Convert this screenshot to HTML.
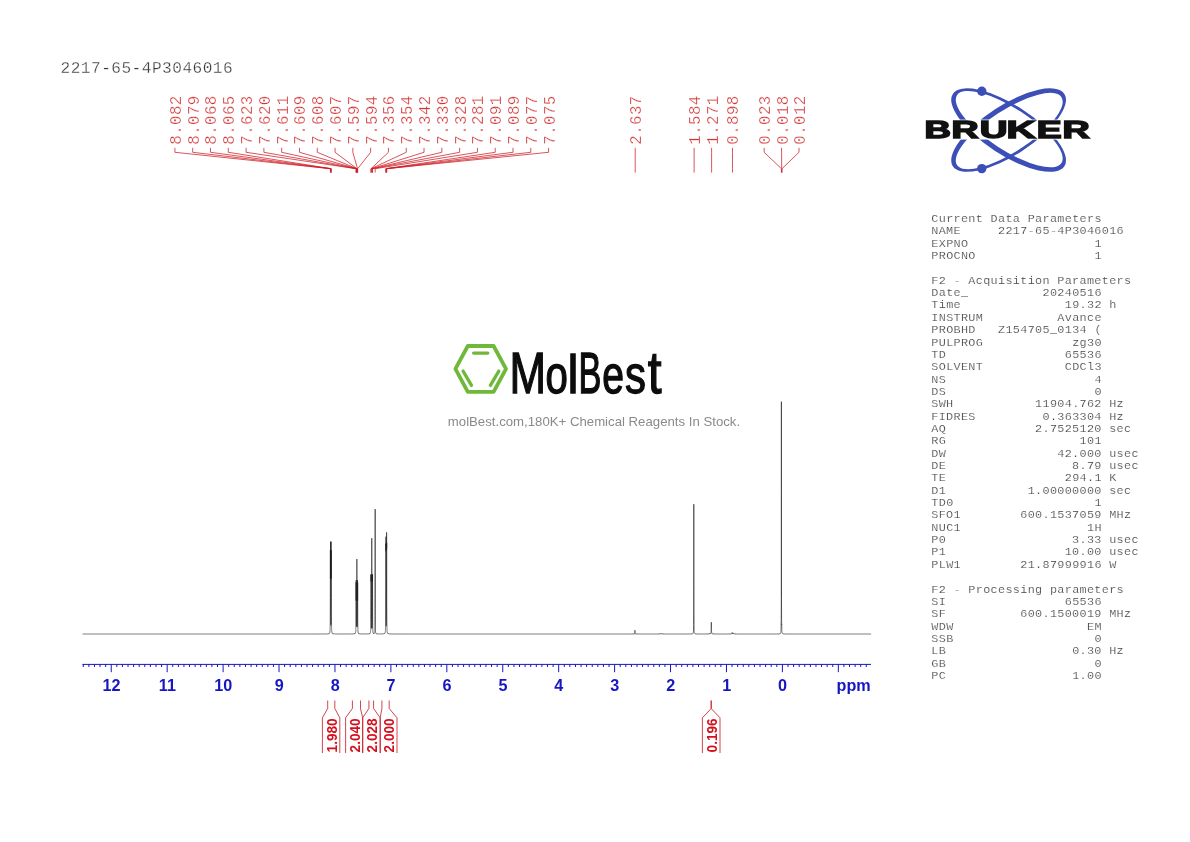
<!DOCTYPE html>
<html lang="en"><head><meta charset="utf-8"><title>2217-65-4P3046016 1H NMR</title>
<style>
html,body{margin:0;padding:0;background:#fff;}
body{width:1190px;height:842px;overflow:hidden;}
svg{display:block;}
.mono{font-family:'Liberation Mono', 'DejaVu Sans Mono', monospace;}
.sans{font-family:'Liberation Sans', 'DejaVu Sans', sans-serif;}
.pk{font-family:'Liberation Mono', 'DejaVu Sans Mono', monospace;font-size:15.8px;fill:#d23434;stroke:#fff;stroke-width:0.3px;}
.par{font-family:'Liberation Mono', 'DejaVu Sans Mono', monospace;font-size:11.8px;fill:#444;white-space:pre;stroke:#fff;stroke-width:0.18px;}
.ax{font-family:'Liberation Sans', 'DejaVu Sans', sans-serif;font-weight:bold;font-size:16.2px;fill:#1616c2;}
.int{font-family:'Liberation Sans', 'DejaVu Sans', sans-serif;font-weight:bold;font-size:14.2px;fill:#d4101c;}
</style></head><body>
<svg width="1190" height="842" viewBox="0 0 1190 842">
<rect width="1190" height="842" fill="#fff"/>

<text class="mono" x="60.5" y="72.9" font-size="16.1" fill="#383838" stroke="#fff" stroke-width="0.28" textLength="172.2" lengthAdjust="spacing">2217-65-4P3046016</text>
<g fill="none" stroke="#cc1c24" stroke-width="0.75">
<path d="M174.90 147.8V152.3L330.37 168.7V172.6"/>
<path d="M192.69 147.8V152.3L330.54 168.7V172.6"/>
<path d="M210.49 147.8V152.3L331.16 168.7V172.6"/>
<path d="M228.29 147.8V152.3L331.32 168.7V172.6"/>
<path d="M246.08 147.8V152.3L356.05 168.7V172.6"/>
<path d="M263.88 147.8V152.3L356.21 168.7V172.6"/>
<path d="M281.67 147.8V152.3L356.72 168.7V172.6"/>
<path d="M299.47 147.8V152.3L356.83 168.7V172.6"/>
<path d="M317.26 147.8V152.3L356.88 168.7V172.6"/>
<path d="M335.06 147.8V152.3L356.94 168.7V172.6"/>
<path d="M352.85 147.8V152.3L357.50 168.7V172.6"/>
<path d="M370.64 147.8V152.3L357.67 168.7V172.6"/>
<path d="M388.44 147.8V152.3L370.98 168.7V172.6"/>
<path d="M406.24 147.8V152.3L371.09 168.7V172.6"/>
<path d="M424.03 147.8V152.3L371.76 168.7V172.6"/>
<path d="M441.83 147.8V152.3L372.43 168.7V172.6"/>
<path d="M459.62 147.8V152.3L372.54 168.7V172.6"/>
<path d="M477.42 147.8V152.3L375.17 168.7V172.6"/>
<path d="M495.21 147.8V152.3L385.80 168.7V172.6"/>
<path d="M513.00 147.8V152.3L385.91 168.7V172.6"/>
<path d="M530.80 147.8V152.3L386.58 168.7V172.6"/>
<path d="M548.60 147.8V152.3L386.70 168.7V172.6"/>
<path d="M635.21 147.8V152.3L635.21 168.7V172.6"/>
<path d="M694.11 147.8V152.3L694.11 168.7V172.6"/>
<path d="M711.61 147.8V152.3L711.61 168.7V172.6"/>
<path d="M732.47 147.8V152.3L732.47 168.7V172.6"/>
<path d="M764.20 147.8V152.3L781.41 168.7V172.6"/>
<path d="M781.60 147.8V152.3L781.69 168.7V172.6"/>
<path d="M799.00 147.8V152.3L782.03 168.7V172.6"/>
</g>
<g class="pk">
<text transform="translate(180.90 144.7) rotate(-90)" textLength="49" lengthAdjust="spacing">8.082</text>
<text transform="translate(198.69 144.7) rotate(-90)" textLength="49" lengthAdjust="spacing">8.079</text>
<text transform="translate(216.49 144.7) rotate(-90)" textLength="49" lengthAdjust="spacing">8.068</text>
<text transform="translate(234.29 144.7) rotate(-90)" textLength="49" lengthAdjust="spacing">8.065</text>
<text transform="translate(252.08 144.7) rotate(-90)" textLength="49" lengthAdjust="spacing">7.623</text>
<text transform="translate(269.88 144.7) rotate(-90)" textLength="49" lengthAdjust="spacing">7.620</text>
<text transform="translate(287.67 144.7) rotate(-90)" textLength="49" lengthAdjust="spacing">7.611</text>
<text transform="translate(305.47 144.7) rotate(-90)" textLength="49" lengthAdjust="spacing">7.609</text>
<text transform="translate(323.26 144.7) rotate(-90)" textLength="49" lengthAdjust="spacing">7.608</text>
<text transform="translate(341.06 144.7) rotate(-90)" textLength="49" lengthAdjust="spacing">7.607</text>
<text transform="translate(358.85 144.7) rotate(-90)" textLength="49" lengthAdjust="spacing">7.597</text>
<text transform="translate(376.64 144.7) rotate(-90)" textLength="49" lengthAdjust="spacing">7.594</text>
<text transform="translate(394.44 144.7) rotate(-90)" textLength="49" lengthAdjust="spacing">7.356</text>
<text transform="translate(412.24 144.7) rotate(-90)" textLength="49" lengthAdjust="spacing">7.354</text>
<text transform="translate(430.03 144.7) rotate(-90)" textLength="49" lengthAdjust="spacing">7.342</text>
<text transform="translate(447.83 144.7) rotate(-90)" textLength="49" lengthAdjust="spacing">7.330</text>
<text transform="translate(465.62 144.7) rotate(-90)" textLength="49" lengthAdjust="spacing">7.328</text>
<text transform="translate(483.42 144.7) rotate(-90)" textLength="49" lengthAdjust="spacing">7.281</text>
<text transform="translate(501.21 144.7) rotate(-90)" textLength="49" lengthAdjust="spacing">7.091</text>
<text transform="translate(519.00 144.7) rotate(-90)" textLength="49" lengthAdjust="spacing">7.089</text>
<text transform="translate(536.80 144.7) rotate(-90)" textLength="49" lengthAdjust="spacing">7.077</text>
<text transform="translate(554.60 144.7) rotate(-90)" textLength="49" lengthAdjust="spacing">7.075</text>
<text transform="translate(641.21 144.7) rotate(-90)" textLength="49" lengthAdjust="spacing">2.637</text>
<text transform="translate(700.11 144.7) rotate(-90)" textLength="49" lengthAdjust="spacing">1.584</text>
<text transform="translate(717.61 144.7) rotate(-90)" textLength="49" lengthAdjust="spacing">1.271</text>
<text transform="translate(738.47 144.7) rotate(-90)" textLength="49" lengthAdjust="spacing">0.898</text>
<text transform="translate(770.20 144.7) rotate(-90)" textLength="49" lengthAdjust="spacing">0.023</text>
<text transform="translate(787.60 144.7) rotate(-90)" textLength="49" lengthAdjust="spacing">0.018</text>
<text transform="translate(805.00 144.7) rotate(-90)" textLength="49" lengthAdjust="spacing">0.012</text>
</g>
<polyline fill="none" stroke="#1c1c1c" stroke-width="0.62" stroke-linejoin="round" points="82.60,634.00 83.10,634.00 83.60,634.00 84.10,634.00 84.60,634.00 85.10,634.00 85.60,634.00 86.10,634.00 86.60,634.00 87.10,634.00 87.60,634.00 88.10,634.00 88.60,634.00 89.10,634.00 89.60,634.00 90.10,634.00 90.60,634.00 91.10,634.00 91.60,634.00 92.10,634.00 92.60,634.00 93.10,634.00 93.60,634.00 94.10,634.00 94.60,634.00 95.10,634.00 95.60,634.00 96.10,634.00 96.60,634.00 97.10,634.00 97.60,634.00 98.10,634.00 98.60,634.00 99.10,634.00 99.60,634.00 100.10,634.00 100.60,634.00 101.10,634.00 101.60,634.00 102.10,634.00 102.60,634.00 103.10,634.00 103.60,634.00 104.10,634.00 104.60,634.00 105.10,634.00 105.60,634.00 106.10,634.00 106.60,634.00 107.10,634.00 107.60,634.00 108.10,634.00 108.60,634.00 109.10,634.00 109.60,634.00 110.10,634.00 110.60,634.00 111.10,634.00 111.60,634.00 112.10,634.00 112.60,634.00 113.10,634.00 113.60,634.00 114.10,634.00 114.60,634.00 115.10,634.00 115.60,634.00 116.10,634.00 116.60,634.00 117.10,634.00 117.60,634.00 118.10,634.00 118.60,634.00 119.10,634.00 119.60,634.00 120.10,634.00 120.60,634.00 121.10,634.00 121.60,634.00 122.10,634.00 122.60,634.00 123.10,634.00 123.60,634.00 124.10,634.00 124.60,634.00 125.10,634.00 125.60,634.00 126.10,634.00 126.60,634.00 127.10,634.00 127.60,634.00 128.10,634.00 128.60,634.00 129.10,634.00 129.60,634.00 130.10,634.00 130.60,634.00 131.10,634.00 131.60,634.00 132.10,634.00 132.60,634.00 133.10,634.00 133.60,634.00 134.10,634.00 134.60,634.00 135.10,634.00 135.60,634.00 136.10,634.00 136.60,634.00 137.10,634.00 137.60,634.00 138.10,634.00 138.60,634.00 139.10,634.00 139.60,634.00 140.10,634.00 140.60,634.00 141.10,634.00 141.60,634.00 142.10,634.00 142.60,634.00 143.10,634.00 143.60,634.00 144.10,634.00 144.60,634.00 145.10,634.00 145.60,634.00 146.10,634.00 146.60,634.00 147.10,634.00 147.60,634.00 148.10,634.00 148.60,634.00 149.10,634.00 149.60,634.00 150.10,634.00 150.60,634.00 151.10,634.00 151.60,634.00 152.10,634.00 152.60,634.00 153.10,634.00 153.60,634.00 154.10,634.00 154.60,634.00 155.10,634.00 155.60,634.00 156.10,634.00 156.60,634.00 157.10,634.00 157.60,634.00 158.10,634.00 158.60,634.00 159.10,634.00 159.60,634.00 160.10,634.00 160.60,634.00 161.10,634.00 161.60,634.00 162.10,634.00 162.60,634.00 163.10,634.00 163.60,634.00 164.10,634.00 164.60,634.00 165.10,634.00 165.60,634.00 166.10,634.00 166.60,634.00 167.10,634.00 167.60,634.00 168.10,634.00 168.60,634.00 169.10,634.00 169.60,634.00 170.10,634.00 170.60,634.00 171.10,634.00 171.60,634.00 172.10,634.00 172.60,634.00 173.10,634.00 173.60,634.00 174.10,634.00 174.60,634.00 175.10,634.00 175.60,634.00 176.10,634.00 176.60,634.00 177.10,634.00 177.60,634.00 178.10,634.00 178.60,634.00 179.10,634.00 179.60,634.00 180.10,634.00 180.60,634.00 181.10,634.00 181.60,634.00 182.10,634.00 182.60,634.00 183.10,634.00 183.60,634.00 184.10,634.00 184.60,634.00 185.10,634.00 185.60,634.00 186.10,634.00 186.60,634.00 187.10,634.00 187.60,634.00 188.10,634.00 188.60,634.00 189.10,634.00 189.60,634.00 190.10,634.00 190.60,634.00 191.10,634.00 191.60,634.00 192.10,634.00 192.60,634.00 193.10,634.00 193.60,634.00 194.10,634.00 194.60,634.00 195.10,634.00 195.60,634.00 196.10,634.00 196.60,634.00 197.10,634.00 197.60,634.00 198.10,634.00 198.60,634.00 199.10,634.00 199.60,634.00 200.10,634.00 200.60,634.00 201.10,634.00 201.60,634.00 202.10,634.00 202.60,634.00 203.10,634.00 203.60,634.00 204.10,634.00 204.60,634.00 205.10,634.00 205.60,634.00 206.10,634.00 206.60,634.00 207.10,634.00 207.60,634.00 208.10,634.00 208.60,634.00 209.10,634.00 209.60,634.00 210.10,634.00 210.60,634.00 211.10,634.00 211.60,634.00 212.10,634.00 212.60,634.00 213.10,634.00 213.60,634.00 214.10,634.00 214.60,634.00 215.10,634.00 215.60,634.00 216.10,634.00 216.60,634.00 217.10,634.00 217.60,634.00 218.10,634.00 218.60,634.00 219.10,634.00 219.60,634.00 220.10,634.00 220.60,634.00 221.10,634.00 221.60,634.00 222.10,634.00 222.60,634.00 223.10,634.00 223.60,634.00 224.10,634.00 224.60,634.00 225.10,634.00 225.60,634.00 226.10,634.00 226.60,634.00 227.10,634.00 227.60,634.00 228.10,634.00 228.60,634.00 229.10,634.00 229.60,634.00 230.10,634.00 230.60,634.00 231.10,634.00 231.60,634.00 232.10,634.00 232.60,634.00 233.10,634.00 233.60,634.00 234.10,634.00 234.60,634.00 235.10,634.00 235.60,634.00 236.10,634.00 236.60,634.00 237.10,634.00 237.60,634.00 238.10,634.00 238.60,634.00 239.10,634.00 239.60,634.00 240.10,634.00 240.60,634.00 241.10,634.00 241.60,634.00 242.10,634.00 242.60,634.00 243.10,634.00 243.60,634.00 244.10,634.00 244.60,634.00 245.10,634.00 245.60,634.00 246.10,634.00 246.60,634.00 247.10,634.00 247.60,634.00 248.10,634.00 248.60,634.00 249.10,634.00 249.60,634.00 250.10,634.00 250.60,634.00 251.10,634.00 251.60,634.00 252.10,634.00 252.60,634.00 253.10,634.00 253.60,634.00 254.10,634.00 254.60,634.00 255.10,634.00 255.60,634.00 256.10,634.00 256.60,634.00 257.10,634.00 257.60,634.00 258.10,634.00 258.60,634.00 259.10,634.00 259.60,634.00 260.10,634.00 260.60,634.00 261.10,634.00 261.60,634.00 262.10,634.00 262.60,634.00 263.10,634.00 263.60,634.00 264.10,634.00 264.60,634.00 265.10,634.00 265.60,634.00 266.10,634.00 266.60,634.00 267.10,634.00 267.60,634.00 268.10,634.00 268.60,634.00 269.10,634.00 269.60,634.00 270.10,634.00 270.60,634.00 271.10,634.00 271.60,634.00 272.10,634.00 272.60,634.00 273.10,634.00 273.60,634.00 274.10,634.00 274.60,634.00 275.10,634.00 275.60,634.00 276.10,634.00 276.60,634.00 277.10,634.00 277.60,634.00 278.10,634.00 278.60,634.00 279.10,634.00 279.60,634.00 280.10,634.00 280.60,634.00 281.10,634.00 281.60,634.00 282.10,634.00 282.60,634.00 283.10,634.00 283.60,634.00 284.10,634.00 284.60,634.00 285.10,634.00 285.60,634.00 286.10,634.00 286.60,634.00 287.10,634.00 287.60,634.00 288.10,634.00 288.60,634.00 289.10,634.00 289.60,634.00 290.10,634.00 290.60,634.00 291.10,634.00 291.60,634.00 292.10,634.00 292.60,634.00 293.10,634.00 293.60,634.00 294.10,634.00 294.60,634.00 295.10,634.00 295.60,634.00 296.10,634.00 296.60,634.00 297.10,634.00 297.60,634.00 298.10,634.00 298.60,634.00 299.10,634.00 299.60,634.00 300.10,634.00 300.60,634.00 301.10,634.00 301.60,634.00 302.10,634.00 302.60,634.00 303.10,634.00 303.60,634.00 304.10,634.00 304.60,634.00 305.10,634.00 305.60,634.00 306.10,634.00 306.60,634.00 307.10,634.00 307.60,634.00 308.10,634.00 308.60,634.00 309.10,634.00 309.60,634.00 310.10,634.00 310.60,634.00 311.10,634.00 311.60,634.00 312.10,634.00 312.60,634.00 313.10,634.00 313.60,633.99 314.10,633.99 314.60,633.99 315.10,633.99 315.60,633.99 316.10,633.99 316.60,633.99 317.10,633.99 317.60,633.99 318.10,633.99 318.60,633.99 319.10,633.99 319.60,633.99 320.10,633.99 320.60,633.99 321.10,633.99 321.60,633.98 322.10,633.98 322.60,633.98 323.10,633.98 323.60,633.98 324.10,633.97 324.60,633.97 325.10,633.96 325.60,633.95 326.10,633.94 326.60,633.93 327.10,633.91 327.37,633.90 327.41,633.89 327.45,633.89 327.49,633.89 327.53,633.89 327.54,633.89 327.57,633.88 327.58,633.88 327.60,633.88 327.61,633.88 327.62,633.88 327.65,633.88 327.66,633.88 327.69,633.87 327.70,633.87 327.73,633.87 327.74,633.87 327.77,633.87 327.78,633.87 327.81,633.86 327.82,633.86 327.85,633.86 327.86,633.86 327.89,633.86 327.90,633.85 327.93,633.85 327.94,633.85 327.97,633.85 327.98,633.85 328.01,633.84 328.02,633.84 328.05,633.84 328.06,633.84 328.09,633.83 328.10,633.83 328.10,633.83 328.13,633.83 328.14,633.83 328.16,633.82 328.17,633.82 328.18,633.82 328.20,633.82 328.21,633.82 328.22,633.81 328.24,633.81 328.25,633.81 328.26,633.81 328.28,633.81 328.29,633.80 328.30,633.80 328.32,633.80 328.32,633.80 328.33,633.80 328.34,633.80 328.36,633.79 328.37,633.79 328.37,633.79 328.38,633.79 328.40,633.79 328.40,633.78 328.41,633.78 328.42,633.78 328.44,633.78 328.44,633.78 328.45,633.77 328.46,633.77 328.48,633.77 328.49,633.77 328.49,633.77 328.50,633.76 328.52,633.76 328.52,633.76 328.53,633.76 328.54,633.76 328.56,633.75 328.56,633.75 328.57,633.75 328.58,633.75 328.60,633.74 328.60,633.74 328.61,633.74 328.61,633.74 328.62,633.74 328.64,633.73 328.64,633.73 328.65,633.73 328.66,633.73 328.68,633.72 328.69,633.72 328.69,633.72 328.70,633.71 328.72,633.71 328.73,633.71 328.73,633.70 328.74,633.70 328.76,633.70 328.76,633.69 328.77,633.69 328.78,633.69 328.80,633.68 328.81,633.68 328.81,633.68 328.82,633.68 328.84,633.67 328.85,633.67 328.85,633.66 328.86,633.66 328.88,633.66 328.88,633.65 328.89,633.65 328.90,633.65 328.92,633.64 328.93,633.64 328.93,633.63 328.94,633.63 328.96,633.62 328.96,633.62 328.97,633.61 328.98,633.61 329.00,633.60 329.00,633.60 329.01,633.59 329.02,633.59 329.04,633.58 329.05,633.58 329.05,633.57 329.06,633.57 329.08,633.56 329.08,633.56 329.09,633.55 329.10,633.55 329.10,633.55 329.12,633.54 329.12,633.53 329.13,633.53 329.14,633.52 329.16,633.51 329.17,633.51 329.17,633.50 329.18,633.49 329.20,633.48 329.20,633.48 329.21,633.47 329.22,633.46 329.24,633.45 329.25,633.45 329.25,633.44 329.26,633.43 329.28,633.42 329.29,633.41 329.29,633.40 329.30,633.40 329.32,633.38 329.32,633.37 329.33,633.36 329.34,633.36 329.36,633.34 329.37,633.33 329.37,633.32 329.38,633.31 329.40,633.30 329.40,633.29 329.41,633.27 329.42,633.26 329.44,633.24 329.44,633.23 329.45,633.22 329.46,633.21 329.48,633.19 329.49,633.18 329.49,633.16 329.50,633.15 329.52,633.12 329.52,633.11 329.53,633.10 329.54,633.08 329.56,633.05 329.56,633.04 329.57,633.02 329.58,633.00 329.60,632.97 329.60,632.96 329.61,632.95 329.61,632.93 329.62,632.91 329.64,632.88 329.64,632.86 329.65,632.83 329.66,632.81 329.68,632.77 329.69,632.75 329.69,632.72 329.70,632.70 329.72,632.65 329.73,632.62 329.73,632.59 329.74,632.56 329.76,632.50 329.76,632.47 329.77,632.43 329.78,632.40 329.80,632.33 329.81,632.29 329.81,632.24 329.82,632.20 329.84,632.12 329.85,632.07 329.85,632.02 329.86,631.97 329.88,631.87 329.88,631.81 329.89,631.74 329.90,631.68 329.92,631.56 329.93,631.49 329.93,631.40 329.94,631.32 329.96,631.17 329.96,631.08 329.97,630.97 329.98,630.87 330.00,630.67 330.00,630.55 330.01,630.41 330.02,630.28 330.04,630.01 330.05,629.85 330.05,629.66 330.06,629.48 330.08,629.11 330.08,628.89 330.09,628.63 330.10,628.44 330.10,628.38 330.12,627.85 330.12,627.53 330.13,627.14 330.14,626.76 330.16,625.96 330.17,625.48 330.17,624.87 330.18,624.27 330.20,622.98 330.20,622.17 330.21,621.15 330.22,620.12 330.24,617.83 330.25,616.36 330.25,614.46 330.26,612.51 330.28,608.01 330.29,605.06 330.29,601.18 330.30,597.16 330.32,587.93 330.32,582.10 330.33,574.90 330.34,568.22 330.36,556.75 330.37,552.45 330.37,550.12 330.38,550.52 330.40,556.39 330.40,560.97 330.41,566.24 330.42,570.46 330.44,576.22 330.44,577.93 330.45,578.63 330.46,578.16 330.48,574.50 330.49,571.07 330.49,566.07 330.50,560.82 330.52,550.29 330.52,545.51 330.53,542.13 330.54,541.66 330.56,547.72 330.56,553.81 330.57,561.81 330.58,569.15 330.60,581.85 330.60,584.12 330.61,587.68 330.61,593.37 330.62,597.71 330.64,604.29 330.64,607.11 330.65,609.82 330.66,611.87 330.68,615.02 330.69,616.39 330.69,617.72 330.70,618.76 330.72,620.37 330.73,621.08 330.73,621.78 330.74,622.33 330.76,623.18 330.76,623.56 330.77,623.93 330.78,624.21 330.80,624.64 330.81,624.81 330.81,624.97 330.82,625.08 330.84,625.21 330.85,625.24 330.85,625.24 330.86,625.21 330.88,625.07 330.88,624.96 330.89,624.80 330.90,624.62 330.92,624.19 330.93,623.90 330.93,623.53 330.94,623.15 330.96,622.28 330.96,621.73 330.97,621.02 330.98,620.30 331.00,618.67 331.00,617.63 331.01,616.27 331.02,614.89 331.04,611.70 331.05,609.62 331.05,606.88 331.06,604.02 331.08,597.35 331.08,592.95 331.09,587.19 331.10,582.84 331.10,581.30 331.12,568.50 331.12,561.16 331.13,553.22 331.14,547.26 331.16,541.60 331.17,542.30 331.17,545.88 331.18,550.76 331.20,561.31 331.20,566.51 331.21,571.41 331.22,574.75 331.24,578.25 331.25,578.62 331.25,577.82 331.26,576.03 331.28,570.11 331.29,565.84 331.29,560.55 331.30,556.01 331.32,550.40 331.32,550.20 331.33,552.76 331.34,557.21 331.36,568.81 331.37,575.48 331.37,582.64 331.38,588.42 331.40,597.54 331.40,601.51 331.41,605.34 331.42,608.25 331.44,612.69 331.44,614.62 331.45,616.50 331.46,617.95 331.48,620.22 331.49,621.23 331.49,622.25 331.50,623.04 331.52,624.33 331.52,624.92 331.53,625.52 331.54,626.00 331.56,626.80 331.56,627.17 331.57,627.56 331.58,627.87 331.60,628.40 331.60,628.50 331.61,628.65 331.61,628.91 331.62,629.13 331.64,629.50 331.64,629.68 331.65,629.86 331.66,630.02 331.68,630.29 331.69,630.42 331.69,630.56 331.70,630.68 331.72,630.88 331.73,630.98 331.73,631.08 331.74,631.17 331.76,631.33 331.76,631.41 331.77,631.49 331.78,631.56 331.80,631.69 331.81,631.75 331.81,631.82 331.82,631.87 331.84,631.97 331.85,632.02 331.85,632.08 331.86,632.12 331.88,632.21 331.88,632.25 331.89,632.29 331.90,632.33 331.92,632.40 331.93,632.43 331.93,632.47 331.94,632.50 331.96,632.56 331.96,632.59 331.97,632.62 331.98,632.65 332.00,632.70 332.00,632.72 332.01,632.75 332.02,632.77 332.04,632.81 332.05,632.84 332.05,632.86 332.06,632.88 332.08,632.92 332.08,632.93 332.09,632.95 332.10,632.97 332.10,632.97 332.12,633.00 332.12,633.02 332.13,633.04 332.14,633.05 332.16,633.08 332.17,633.10 332.17,633.11 332.18,633.13 332.20,633.15 332.20,633.16 332.21,633.18 332.22,633.19 332.24,633.21 332.25,633.22 332.25,633.23 332.26,633.24 332.28,633.26 332.29,633.27 332.29,633.29 332.30,633.30 332.32,633.31 332.32,633.32 332.33,633.33 332.34,633.34 332.36,633.36 332.37,633.36 332.37,633.37 332.38,633.38 332.40,633.40 332.40,633.40 332.41,633.41 332.42,633.42 332.44,633.43 332.44,633.44 332.45,633.45 332.46,633.45 332.48,633.46 332.49,633.47 332.49,633.48 332.50,633.48 332.52,633.49 332.52,633.50 332.53,633.51 332.54,633.51 332.56,633.52 332.56,633.53 332.57,633.53 332.58,633.54 332.60,633.55 332.60,633.55 332.61,633.55 332.61,633.56 332.62,633.56 332.64,633.57 332.64,633.57 332.65,633.58 332.66,633.58 332.68,633.59 332.69,633.59 332.69,633.60 332.70,633.60 332.72,633.61 332.73,633.61 332.73,633.62 332.74,633.62 332.76,633.63 332.76,633.63 332.77,633.64 332.78,633.64 332.80,633.64 332.81,633.65 332.81,633.65 332.82,633.65 332.84,633.66 332.85,633.66 332.85,633.67 332.86,633.67 332.88,633.68 332.88,633.68 332.89,633.68 332.90,633.68 332.92,633.69 332.93,633.69 332.93,633.69 332.94,633.70 332.96,633.70 332.96,633.70 332.97,633.71 332.98,633.71 333.00,633.71 333.00,633.72 333.01,633.72 333.02,633.72 333.04,633.72 333.05,633.73 333.05,633.73 333.06,633.73 333.08,633.74 333.08,633.74 333.09,633.74 333.10,633.74 333.10,633.74 333.12,633.75 333.12,633.75 333.13,633.75 333.14,633.75 333.16,633.75 333.17,633.76 333.17,633.76 333.18,633.76 333.20,633.76 333.20,633.77 333.21,633.77 333.22,633.77 333.24,633.77 333.25,633.77 333.25,633.78 333.26,633.78 333.28,633.78 333.29,633.78 333.29,633.78 333.30,633.78 333.32,633.79 333.32,633.79 333.33,633.79 333.34,633.79 333.36,633.79 333.37,633.80 333.37,633.80 333.38,633.80 333.40,633.80 333.40,633.80 333.42,633.81 333.44,633.81 333.44,633.81 333.46,633.81 333.48,633.81 333.49,633.81 333.50,633.82 333.52,633.82 333.52,633.82 333.54,633.82 333.56,633.83 333.56,633.83 333.60,633.83 333.60,633.83 333.61,633.83 333.64,633.84 333.64,633.84 333.68,633.84 333.69,633.84 333.72,633.84 333.73,633.85 333.76,633.85 333.76,633.85 333.80,633.85 333.81,633.85 333.84,633.86 333.85,633.86 333.88,633.86 333.88,633.86 333.92,633.86 333.93,633.87 333.96,633.87 333.96,633.87 334.00,633.87 334.00,633.87 334.04,633.87 334.05,633.88 334.08,633.88 334.08,633.88 334.10,633.88 334.12,633.88 334.12,633.88 334.16,633.88 334.17,633.88 334.20,633.89 334.25,633.89 334.29,633.89 334.32,633.89 334.60,633.91 335.10,633.93 335.60,633.94 336.10,633.95 336.60,633.96 337.10,633.96 337.60,633.97 338.10,633.97 338.60,633.97 339.10,633.98 339.60,633.98 340.10,633.98 340.60,633.98 341.10,633.98 341.60,633.98 342.10,633.98 342.60,633.98 343.10,633.98 343.60,633.98 344.10,633.98 344.60,633.98 345.10,633.98 345.60,633.98 346.10,633.98 346.60,633.98 347.10,633.98 347.60,633.98 348.10,633.98 348.60,633.98 349.10,633.97 349.60,633.97 350.10,633.97 350.60,633.96 351.10,633.96 351.60,633.95 352.10,633.94 352.60,633.92 353.05,633.91 353.09,633.90 353.10,633.90 353.13,633.90 353.17,633.90 353.21,633.90 353.21,633.90 353.25,633.90 353.25,633.89 353.29,633.89 353.29,633.89 353.33,633.89 353.33,633.89 353.37,633.89 353.37,633.89 353.41,633.89 353.41,633.88 353.45,633.88 353.45,633.88 353.49,633.88 353.49,633.88 353.53,633.88 353.53,633.88 353.57,633.87 353.57,633.87 353.60,633.87 353.61,633.87 353.61,633.87 353.65,633.87 353.65,633.87 353.69,633.86 353.69,633.86 353.72,633.86 353.73,633.86 353.73,633.86 353.76,633.86 353.77,633.86 353.77,633.85 353.80,633.85 353.81,633.85 353.81,633.85 353.83,633.85 353.84,633.85 353.85,633.85 353.85,633.85 353.87,633.84 353.88,633.84 353.88,633.84 353.89,633.84 353.89,633.84 353.91,633.84 353.92,633.84 353.93,633.84 353.93,633.84 353.93,633.84 353.94,633.84 353.95,633.84 353.96,633.83 353.96,633.83 353.97,633.83 353.97,633.83 353.98,633.83 353.99,633.83 354.00,633.83 354.00,633.83 354.01,633.83 354.01,633.83 354.02,633.83 354.03,633.83 354.04,633.82 354.05,633.82 354.05,633.82 354.05,633.82 354.06,633.82 354.07,633.82 354.08,633.82 354.08,633.82 354.09,633.82 354.09,633.82 354.10,633.82 354.11,633.81 354.12,633.81 354.12,633.81 354.13,633.81 354.13,633.81 354.14,633.81 354.15,633.81 354.16,633.81 354.17,633.81 354.17,633.80 354.17,633.80 354.18,633.80 354.19,633.80 354.20,633.80 354.20,633.80 354.21,633.80 354.21,633.80 354.22,633.80 354.23,633.79 354.24,633.79 354.25,633.79 354.25,633.79 354.25,633.79 354.26,633.79 354.27,633.79 354.28,633.79 354.29,633.78 354.29,633.78 354.29,633.78 354.30,633.78 354.31,633.78 354.32,633.78 354.32,633.78 354.33,633.78 354.33,633.77 354.34,633.77 354.35,633.77 354.36,633.77 354.37,633.77 354.37,633.77 354.37,633.77 354.38,633.76 354.39,633.76 354.40,633.76 354.40,633.76 354.41,633.76 354.41,633.76 354.42,633.76 354.43,633.75 354.44,633.75 354.44,633.75 354.45,633.75 354.45,633.75 354.46,633.75 354.47,633.74 354.48,633.74 354.49,633.74 354.49,633.74 354.49,633.74 354.50,633.74 354.51,633.73 354.52,633.73 354.52,633.73 354.53,633.73 354.53,633.73 354.54,633.73 354.55,633.72 354.56,633.72 354.56,633.72 354.57,633.72 354.57,633.72 354.58,633.71 354.59,633.71 354.60,633.71 354.60,633.71 354.61,633.71 354.61,633.71 354.61,633.70 354.62,633.70 354.63,633.70 354.64,633.70 354.64,633.69 354.65,633.69 354.65,633.69 354.66,633.69 354.67,633.69 354.67,633.69 354.68,633.68 354.69,633.68 354.69,633.68 354.69,633.68 354.70,633.67 354.71,633.67 354.71,633.67 354.72,633.67 354.73,633.66 354.73,633.66 354.73,633.66 354.74,633.66 354.75,633.66 354.75,633.65 354.76,633.65 354.76,633.65 354.77,633.65 354.77,633.64 354.78,633.64 354.79,633.64 354.79,633.64 354.80,633.63 354.81,633.63 354.81,633.63 354.81,633.63 354.82,633.62 354.83,633.62 354.83,633.62 354.84,633.62 354.85,633.61 354.85,633.61 354.85,633.61 354.86,633.60 354.87,633.60 354.87,633.60 354.88,633.60 354.88,633.59 354.89,633.59 354.89,633.59 354.90,633.58 354.91,633.58 354.91,633.58 354.92,633.57 354.93,633.57 354.93,633.57 354.93,633.56 354.94,633.56 354.95,633.56 354.95,633.56 354.96,633.55 354.96,633.55 354.97,633.54 354.97,633.54 354.98,633.54 354.99,633.53 354.99,633.53 355.00,633.52 355.00,633.52 355.01,633.52 355.01,633.51 355.02,633.51 355.03,633.50 355.03,633.50 355.04,633.50 355.05,633.49 355.05,633.49 355.05,633.48 355.06,633.48 355.07,633.47 355.07,633.47 355.08,633.46 355.08,633.46 355.09,633.46 355.09,633.45 355.10,633.44 355.11,633.44 355.11,633.44 355.12,633.43 355.12,633.42 355.13,633.42 355.13,633.41 355.14,633.41 355.15,633.40 355.15,633.40 355.16,633.39 355.17,633.38 355.17,633.38 355.17,633.37 355.18,633.36 355.19,633.36 355.19,633.35 355.20,633.35 355.20,633.34 355.21,633.33 355.21,633.33 355.22,633.32 355.23,633.31 355.23,633.31 355.24,633.30 355.25,633.29 355.25,633.28 355.25,633.27 355.26,633.26 355.27,633.25 355.27,633.25 355.28,633.24 355.29,633.23 355.29,633.23 355.29,633.22 355.30,633.20 355.31,633.19 355.31,633.19 355.32,633.18 355.32,633.16 355.33,633.16 355.33,633.15 355.34,633.14 355.35,633.12 355.35,633.12 355.36,633.10 355.37,633.09 355.37,633.09 355.37,633.07 355.38,633.06 355.39,633.04 355.39,633.04 355.40,633.02 355.40,633.00 355.41,633.00 355.41,632.98 355.42,632.96 355.43,632.94 355.43,632.94 355.44,632.92 355.44,632.90 355.45,632.90 355.45,632.88 355.46,632.86 355.47,632.83 355.47,632.83 355.48,632.81 355.49,632.78 355.49,632.78 355.49,632.75 355.50,632.73 355.51,632.70 355.51,632.70 355.52,632.67 355.52,632.64 355.53,632.63 355.53,632.60 355.54,632.57 355.55,632.54 355.55,632.54 355.56,632.50 355.56,632.46 355.57,632.46 355.57,632.42 355.58,632.39 355.59,632.34 355.59,632.34 355.60,632.29 355.60,632.28 355.61,632.25 355.61,632.24 355.61,632.20 355.62,632.15 355.63,632.10 355.63,632.09 355.64,632.03 355.64,631.97 355.65,631.97 355.65,631.91 355.66,631.85 355.67,631.78 355.67,631.78 355.68,631.70 355.69,631.62 355.69,631.61 355.69,631.54 355.70,631.47 355.71,631.38 355.71,631.36 355.72,631.27 355.73,631.16 355.73,631.15 355.73,631.05 355.74,630.95 355.75,630.82 355.75,630.80 355.76,630.67 355.76,630.52 355.77,630.51 355.77,630.37 355.78,630.22 355.79,630.04 355.79,630.02 355.80,629.82 355.81,629.61 355.81,629.58 355.81,629.38 355.82,629.16 355.83,628.89 355.83,628.85 355.84,628.55 355.85,628.22 355.85,628.18 355.85,627.86 355.86,627.51 355.87,627.07 355.87,627.01 355.88,626.51 355.88,625.95 355.89,625.88 355.89,625.33 355.90,624.72 355.91,623.94 355.91,623.83 355.92,622.93 355.93,621.90 355.93,621.76 355.93,620.71 355.94,619.53 355.95,617.99 355.95,617.78 355.96,615.96 355.96,613.85 355.97,613.56 355.97,611.41 355.98,608.97 355.99,605.82 355.99,605.39 356.00,601.79 356.00,597.87 356.01,597.36 356.01,593.76 356.02,590.24 356.03,586.62 356.03,586.22 356.04,583.61 356.05,582.29 356.05,582.23 356.05,582.42 356.06,583.62 356.07,585.92 356.07,586.25 356.08,589.13 356.08,592.09 356.09,592.45 356.09,594.80 356.10,596.82 356.11,598.63 356.11,598.81 356.12,599.96 356.12,600.50 356.13,600.53 356.13,600.43 356.14,599.87 356.15,598.65 356.15,598.45 356.16,596.55 356.17,594.10 356.17,593.76 356.17,591.18 356.18,588.40 356.19,585.22 356.19,584.84 356.20,582.15 356.20,580.39 356.21,580.26 356.21,579.98 356.22,580.86 356.23,583.18 356.23,583.56 356.24,587.06 356.25,591.13 356.25,591.65 356.25,595.33 356.26,598.89 356.27,602.66 356.27,603.10 356.28,606.42 356.29,609.33 356.29,609.66 356.29,611.84 356.30,613.75 356.31,615.63 356.31,615.85 356.32,617.44 356.32,618.80 356.33,618.95 356.33,619.96 356.34,620.85 356.35,621.73 356.35,621.84 356.36,622.58 356.37,623.23 356.37,623.30 356.37,623.79 356.38,624.21 356.39,624.63 356.39,624.68 356.40,625.04 356.40,625.34 356.41,625.38 356.41,625.60 356.42,625.79 356.43,625.97 356.43,625.99 356.44,626.12 356.44,626.23 356.45,626.24 356.45,626.30 356.46,626.34 356.47,626.36 356.47,626.36 356.48,626.34 356.49,626.30 356.49,626.29 356.49,626.22 356.50,626.13 356.51,626.00 356.51,625.98 356.52,625.81 356.52,625.61 356.53,625.58 356.53,625.36 356.54,625.11 356.55,624.79 356.55,624.74 356.56,624.36 356.56,623.92 356.57,623.86 356.57,623.41 356.58,622.91 356.59,622.25 356.59,622.16 356.60,621.40 356.60,621.08 356.61,620.52 356.61,620.40 356.61,619.50 356.62,618.48 356.63,617.15 356.63,616.97 356.64,615.41 356.64,613.60 356.65,613.36 356.65,611.53 356.66,609.48 356.67,606.86 356.67,606.51 356.68,603.61 356.69,600.53 356.69,600.15 356.69,597.46 356.70,594.94 356.71,592.49 356.71,592.23 356.72,590.52 356.73,589.53 356.73,589.45 356.73,589.14 356.74,589.09 356.75,589.07 356.75,589.06 356.76,588.75 356.76,587.96 356.77,587.82 356.77,586.55 356.78,584.76 356.79,582.09 356.79,581.71 356.80,578.42 356.81,574.78 356.81,574.32 356.81,571.11 356.82,568.13 356.83,565.24 356.83,564.92 356.84,562.80 356.85,561.28 356.85,561.13 356.85,560.22 356.86,559.54 356.87,559.05 356.87,559.02 356.88,558.99 356.88,559.54 356.89,559.65 356.89,560.72 356.90,562.21 356.91,564.28 356.91,564.56 356.92,566.92 356.93,569.50 356.93,569.85 356.93,572.39 356.94,575.27 356.95,579.01 356.95,579.51 356.96,583.70 356.96,588.11 356.97,588.66 356.97,592.49 356.98,596.15 356.99,600.03 356.99,600.48 357.00,603.91 357.00,606.94 357.01,607.29 357.01,609.58 357.02,611.60 357.03,613.62 357.03,613.85 357.04,615.58 357.05,617.07 357.05,617.24 357.05,618.37 357.06,619.37 357.07,620.38 357.07,620.50 357.08,621.37 357.08,622.14 357.09,622.23 357.09,622.81 357.10,623.34 357.11,623.87 357.11,623.93 357.12,624.40 357.12,624.81 357.13,624.86 357.13,625.18 357.14,625.46 357.15,625.75 357.15,625.78 357.16,626.03 357.17,626.24 357.17,626.27 357.17,626.43 357.18,626.57 357.19,626.70 357.19,626.72 357.20,626.82 357.20,626.90 357.21,626.91 357.21,626.96 357.22,626.99 357.23,627.01 357.23,627.01 357.24,626.99 357.25,626.96 357.25,626.95 357.25,626.90 357.26,626.82 357.27,626.72 357.27,626.70 357.28,626.56 357.29,626.39 357.29,626.36 357.29,626.18 357.30,625.97 357.31,625.69 357.31,625.66 357.32,625.33 357.32,624.95 357.33,624.90 357.33,624.51 357.34,624.07 357.35,623.50 357.35,623.42 357.36,622.75 357.37,621.98 357.37,621.88 357.37,621.09 357.38,620.20 357.39,619.02 357.39,618.86 357.40,617.47 357.40,615.85 357.41,615.63 357.41,613.96 357.42,612.05 357.43,609.54 357.43,609.20 357.44,606.25 357.44,602.88 357.45,602.43 357.45,599.12 357.46,595.56 357.47,591.35 357.47,590.82 357.48,586.79 357.49,583.36 357.49,583.00 357.49,581.00 357.50,580.09 357.51,580.46 357.51,580.61 357.52,582.48 357.52,585.24 357.53,585.62 357.53,588.41 357.54,591.19 357.55,594.12 357.55,594.45 357.56,596.85 357.56,598.68 357.57,598.87 357.57,599.91 357.58,600.49 357.59,600.57 357.59,600.54 357.60,599.94 357.60,599.55 357.61,598.73 357.61,598.53 357.61,596.93 357.62,594.92 357.63,592.21 357.63,591.85 357.64,588.89 357.64,586.03 357.65,585.70 357.65,583.71 357.66,582.49 357.67,582.32 357.67,582.41 357.68,583.87 357.69,586.59 357.69,587.00 357.69,590.19 357.70,593.71 357.71,597.81 357.71,598.32 357.72,602.21 357.73,605.77 357.73,606.19 357.73,608.94 357.74,611.38 357.75,613.83 357.75,614.11 357.76,616.19 357.76,617.98 357.77,618.19 357.77,619.53 357.78,620.71 357.79,621.90 357.79,622.04 357.80,623.05 357.81,623.95 357.81,624.05 357.81,624.73 357.82,625.34 357.83,625.97 357.83,626.04 357.84,626.59 357.85,627.08 357.85,627.14 357.85,627.52 357.86,627.87 357.87,628.24 357.87,628.28 357.88,628.61 357.88,628.90 357.89,628.94 357.89,629.17 357.90,629.39 357.91,629.62 357.91,629.65 357.92,629.86 357.93,630.06 357.93,630.08 357.93,630.24 357.94,630.38 357.95,630.54 357.95,630.56 357.96,630.70 357.96,630.83 357.97,630.85 357.97,630.96 357.98,631.06 357.99,631.17 357.99,631.19 358.00,631.29 358.00,631.39 358.01,631.40 358.01,631.48 358.02,631.55 358.03,631.64 358.03,631.65 358.04,631.72 358.05,631.80 358.05,631.80 358.05,631.87 358.06,631.92 358.07,631.99 358.07,631.99 358.08,632.05 358.08,632.11 358.09,632.11 358.09,632.16 358.10,632.21 358.11,632.26 358.11,632.26 358.12,632.31 358.12,632.35 358.13,632.36 358.13,632.39 358.14,632.43 358.15,632.47 358.15,632.47 358.16,632.51 358.17,632.55 358.17,632.55 358.17,632.58 358.18,632.61 358.19,632.64 358.19,632.65 358.20,632.68 358.20,632.71 358.21,632.71 358.21,632.74 358.22,632.76 358.23,632.79 358.23,632.79 358.24,632.81 358.25,632.84 358.25,632.84 358.25,632.86 358.26,632.88 358.27,632.91 358.27,632.91 358.28,632.93 358.29,632.95 358.29,632.95 358.29,632.97 358.30,632.99 358.31,633.01 358.31,633.01 358.32,633.03 358.32,633.04 358.33,633.05 358.33,633.06 358.34,633.08 358.35,633.09 358.35,633.09 358.36,633.11 358.37,633.13 358.37,633.13 358.37,633.14 358.38,633.15 358.39,633.17 358.39,633.17 358.40,633.18 358.40,633.20 358.41,633.20 358.41,633.21 358.42,633.22 358.43,633.23 358.43,633.23 358.44,633.24 358.44,633.26 358.45,633.26 358.45,633.27 358.46,633.28 358.47,633.29 358.47,633.29 358.48,633.30 358.49,633.31 358.49,633.31 358.49,633.32 358.50,633.33 358.51,633.34 358.51,633.34 358.52,633.35 358.52,633.36 358.53,633.36 358.53,633.37 358.54,633.37 358.55,633.38 358.55,633.38 358.56,633.39 358.56,633.40 358.57,633.40 358.57,633.41 358.58,633.41 358.59,633.42 358.59,633.42 358.60,633.43 358.60,633.43 358.61,633.44 358.61,633.44 358.61,633.45 358.62,633.45 358.63,633.46 358.63,633.46 358.64,633.47 358.64,633.47 358.65,633.47 358.65,633.48 358.66,633.48 358.67,633.49 358.67,633.49 358.68,633.50 358.69,633.50 358.69,633.50 358.69,633.51 358.70,633.51 358.71,633.52 358.71,633.52 358.72,633.53 358.73,633.53 358.73,633.53 358.73,633.54 358.74,633.54 358.75,633.55 358.75,633.55 358.76,633.55 358.76,633.56 358.77,633.56 358.77,633.56 358.78,633.57 358.79,633.57 358.79,633.57 358.80,633.57 358.81,633.58 358.81,633.58 358.81,633.58 358.82,633.59 358.83,633.59 358.83,633.59 358.84,633.60 358.85,633.60 358.85,633.60 358.85,633.60 358.86,633.61 358.87,633.61 358.87,633.61 358.88,633.62 358.88,633.62 358.89,633.62 358.89,633.62 358.90,633.63 358.91,633.63 358.91,633.63 358.92,633.63 358.93,633.64 358.93,633.64 358.93,633.64 358.94,633.64 358.95,633.65 358.95,633.65 358.96,633.65 358.96,633.65 358.97,633.66 358.97,633.66 358.98,633.66 358.99,633.66 358.99,633.66 359.00,633.67 359.00,633.67 359.01,633.67 359.01,633.67 359.02,633.68 359.03,633.68 359.03,633.68 359.04,633.68 359.05,633.68 359.05,633.68 359.05,633.69 359.06,633.69 359.07,633.69 359.07,633.69 359.08,633.70 359.08,633.70 359.09,633.70 359.10,633.70 359.11,633.70 359.11,633.71 359.12,633.71 359.12,633.71 359.13,633.71 359.14,633.71 359.15,633.72 359.15,633.72 359.16,633.72 359.17,633.72 359.17,633.72 359.18,633.73 359.19,633.73 359.19,633.73 359.20,633.73 359.20,633.73 359.21,633.73 359.22,633.74 359.23,633.74 359.23,633.74 359.24,633.74 359.25,633.74 359.26,633.75 359.27,633.75 359.27,633.75 359.28,633.75 359.29,633.75 359.30,633.76 359.31,633.76 359.31,633.76 359.32,633.76 359.32,633.76 359.34,633.76 359.35,633.77 359.35,633.77 359.36,633.77 359.37,633.77 359.38,633.77 359.39,633.77 359.39,633.77 359.40,633.78 359.40,633.78 359.42,633.78 359.43,633.78 359.43,633.78 359.44,633.78 359.44,633.78 359.46,633.79 359.47,633.79 359.47,633.79 359.48,633.79 359.49,633.79 359.50,633.79 359.51,633.80 359.51,633.80 359.52,633.80 359.52,633.80 359.54,633.80 359.55,633.80 359.55,633.80 359.56,633.80 359.56,633.80 359.58,633.81 359.59,633.81 359.59,633.81 359.60,633.81 359.60,633.81 359.61,633.81 359.62,633.81 359.63,633.81 359.63,633.81 359.64,633.82 359.64,633.82 359.66,633.82 359.67,633.82 359.67,633.82 359.68,633.82 359.69,633.82 359.70,633.82 359.71,633.82 359.71,633.83 359.72,633.83 359.73,633.83 359.74,633.83 359.75,633.83 359.75,633.83 359.76,633.83 359.78,633.83 359.79,633.83 359.79,633.83 359.81,633.84 359.82,633.84 359.83,633.84 359.83,633.84 359.85,633.84 359.86,633.84 359.87,633.84 359.88,633.85 359.90,633.85 359.91,633.85 359.94,633.85 359.95,633.85 359.98,633.85 359.99,633.86 360.02,633.86 360.03,633.86 360.06,633.86 360.07,633.86 360.10,633.87 360.11,633.87 360.14,633.87 360.15,633.87 360.18,633.87 360.19,633.87 360.22,633.87 360.23,633.87 360.26,633.88 360.27,633.88 360.30,633.88 360.31,633.88 360.34,633.88 360.35,633.88 360.38,633.88 360.39,633.89 360.42,633.89 360.43,633.89 360.46,633.89 360.47,633.89 360.50,633.89 360.51,633.89 360.55,633.89 360.59,633.90 360.60,633.90 360.63,633.90 360.67,633.90 361.10,633.92 361.60,633.93 362.10,633.94 362.60,633.95 363.10,633.95 363.60,633.95 364.10,633.95 364.60,633.95 365.10,633.95 365.60,633.95 366.10,633.94 366.60,633.94 367.10,633.93 367.60,633.91 367.98,633.90 368.02,633.90 368.06,633.90 368.09,633.89 368.10,633.89 368.10,633.89 368.13,633.89 368.14,633.89 368.17,633.89 368.18,633.89 368.21,633.89 368.22,633.89 368.25,633.88 368.26,633.88 368.29,633.88 368.30,633.88 368.33,633.88 368.34,633.88 368.37,633.88 368.38,633.88 368.41,633.87 368.42,633.87 368.45,633.87 368.46,633.87 368.49,633.87 368.50,633.87 368.53,633.87 368.54,633.87 368.57,633.86 368.58,633.86 368.60,633.86 368.61,633.86 368.62,633.86 368.65,633.86 368.66,633.85 368.69,633.85 368.70,633.85 368.73,633.85 368.74,633.85 368.76,633.84 368.77,633.84 368.78,633.84 368.80,633.84 368.81,633.84 368.82,633.84 368.84,633.84 368.85,633.84 368.86,633.83 368.88,633.83 368.89,633.83 368.90,633.83 368.92,633.83 368.93,633.83 368.94,633.82 368.96,633.82 368.97,633.82 368.98,633.82 369.00,633.82 369.01,633.81 369.02,633.81 369.04,633.81 369.05,633.81 369.06,633.81 369.08,633.80 369.09,633.80 369.10,633.80 369.10,633.80 369.12,633.80 369.13,633.80 369.14,633.80 369.16,633.79 369.17,633.79 369.18,633.79 369.20,633.78 369.21,633.78 369.22,633.78 369.24,633.78 369.25,633.78 369.26,633.77 369.28,633.77 369.29,633.77 369.30,633.77 369.32,633.76 369.33,633.76 369.34,633.76 369.36,633.75 369.37,633.75 369.38,633.75 369.40,633.74 369.41,633.74 369.42,633.74 369.43,633.73 369.44,633.73 369.45,633.73 369.46,633.73 369.47,633.72 369.48,633.72 369.49,633.72 369.50,633.72 369.51,633.71 369.52,633.71 369.53,633.71 369.54,633.70 369.55,633.70 369.55,633.70 369.56,633.70 369.57,633.69 369.58,633.69 369.58,633.69 369.59,633.69 369.60,633.68 369.60,633.68 369.61,633.68 369.62,633.68 369.62,633.68 369.63,633.67 369.64,633.67 369.65,633.67 369.66,633.66 369.67,633.66 369.67,633.66 369.68,633.65 369.69,633.65 369.70,633.65 369.70,633.64 369.71,633.64 369.72,633.64 369.73,633.63 369.74,633.63 369.75,633.63 369.75,633.62 369.76,633.62 369.77,633.61 369.78,633.61 369.79,633.61 369.79,633.60 369.80,633.60 369.81,633.59 369.82,633.59 369.82,633.59 369.83,633.58 369.84,633.58 369.85,633.57 369.86,633.57 369.87,633.56 369.87,633.56 369.88,633.55 369.89,633.55 369.90,633.54 369.90,633.54 369.91,633.53 369.92,633.53 369.93,633.52 369.94,633.52 369.94,633.51 369.95,633.51 369.96,633.50 369.97,633.49 369.98,633.49 369.99,633.48 369.99,633.47 370.00,633.47 370.01,633.46 370.02,633.45 370.02,633.45 370.03,633.44 370.04,633.43 370.05,633.42 370.06,633.42 370.06,633.41 370.07,633.40 370.08,633.39 370.09,633.38 370.10,633.37 370.10,633.37 370.11,633.37 370.11,633.36 370.12,633.35 370.13,633.34 370.14,633.33 370.14,633.32 370.15,633.31 370.16,633.30 370.17,633.29 370.18,633.28 370.19,633.27 370.19,633.25 370.20,633.24 370.21,633.23 370.22,633.22 370.23,633.21 370.23,633.19 370.24,633.18 370.25,633.16 370.26,633.15 370.26,633.14 370.27,633.12 370.28,633.10 370.29,633.08 370.30,633.07 370.31,633.05 370.31,633.04 370.32,633.02 370.33,633.00 370.34,632.98 370.35,632.96 370.35,632.94 370.36,632.92 370.37,632.89 370.38,632.87 370.38,632.85 370.39,632.82 370.40,632.80 370.41,632.77 370.42,632.74 370.43,632.72 370.43,632.69 370.44,632.65 370.45,632.62 370.46,632.58 370.46,632.56 370.47,632.52 370.48,632.48 370.49,632.43 370.50,632.39 370.50,632.36 370.51,632.32 370.52,632.26 370.53,632.21 370.54,632.16 370.55,632.12 370.55,632.06 370.56,631.99 370.57,631.92 370.58,631.86 370.58,631.81 370.59,631.73 370.60,631.67 370.60,631.65 370.61,631.56 370.62,631.47 370.62,631.40 370.63,631.31 370.64,631.19 370.65,631.07 370.66,630.95 370.67,630.86 370.67,630.73 370.68,630.57 370.69,630.40 370.70,630.24 370.70,630.11 370.71,629.92 370.72,629.69 370.73,629.45 370.74,629.21 370.75,629.01 370.75,628.73 370.76,628.39 370.77,628.01 370.78,627.63 370.79,627.33 370.79,626.88 370.80,626.32 370.81,625.69 370.82,625.06 370.82,624.54 370.83,623.77 370.84,622.78 370.85,621.64 370.86,620.47 370.87,619.48 370.87,618.00 370.88,616.06 370.89,613.77 370.90,611.40 370.90,609.38 370.91,606.33 370.92,602.38 370.93,597.86 370.94,593.45 370.94,589.99 370.95,585.38 370.96,580.65 370.97,577.00 370.98,575.10 370.99,574.59 370.99,575.01 371.00,576.54 371.01,578.50 371.02,580.07 371.02,580.93 371.03,581.46 371.04,581.16 371.05,579.95 371.06,578.34 371.06,576.99 371.07,575.38 371.08,574.41 371.09,574.91 371.10,576.83 371.10,577.17 371.11,579.12 371.11,583.01 371.12,588.04 371.13,593.21 371.14,597.57 371.14,600.60 371.15,604.26 371.16,607.84 371.17,610.89 371.18,613.21 371.19,614.74 371.19,616.52 371.20,618.24 371.21,619.70 371.22,620.82 371.23,621.56 371.23,622.43 371.24,623.29 371.25,624.03 371.26,624.60 371.26,624.99 371.27,625.45 371.28,625.91 371.29,626.30 371.30,626.61 371.31,626.82 371.31,627.06 371.32,627.31 371.33,627.51 371.34,627.67 371.35,627.78 371.35,627.90 371.36,628.01 371.37,628.10 371.38,628.16 371.38,628.19 371.39,628.22 371.40,628.23 371.41,628.23 371.42,628.21 371.43,628.18 371.43,628.13 371.44,628.05 371.45,627.95 371.46,627.85 371.46,627.76 371.47,627.61 371.48,627.43 371.49,627.22 371.50,627.00 371.50,626.82 371.51,626.56 371.52,626.22 371.53,625.84 371.54,625.46 371.55,625.14 371.55,624.67 371.56,624.08 371.57,623.40 371.58,622.72 371.58,622.15 371.59,621.30 371.60,620.47 371.60,620.22 371.61,618.96 371.62,617.68 371.62,616.60 371.63,614.96 371.64,612.83 371.65,610.31 371.66,607.68 371.67,605.43 371.67,602.00 371.68,597.46 371.69,592.06 371.70,586.47 371.70,581.76 371.71,574.80 371.72,566.22 371.73,557.30 371.74,549.77 371.75,544.91 371.75,540.21 371.76,538.26 371.77,540.26 371.78,544.99 371.79,549.88 371.79,557.41 371.80,566.34 371.81,574.91 371.82,581.86 371.82,586.56 371.83,592.14 371.84,597.52 371.85,602.06 371.86,605.48 371.87,607.72 371.87,610.34 371.88,612.86 371.89,614.99 371.90,616.62 371.90,617.70 371.91,618.98 371.92,620.23 371.93,621.31 371.94,622.15 371.94,622.72 371.95,623.40 371.96,624.08 371.97,624.67 371.98,625.14 371.99,625.46 371.99,625.84 372.00,626.22 372.01,626.56 372.02,626.82 372.02,627.00 372.03,627.21 372.04,627.43 372.05,627.61 372.06,627.75 372.06,627.84 372.07,627.95 372.08,628.04 372.09,628.12 372.10,628.17 372.10,628.17 372.11,628.20 372.11,628.22 372.12,628.22 372.13,628.21 372.14,628.18 372.14,628.14 372.15,628.08 372.16,627.99 372.17,627.88 372.17,627.84 372.18,627.76 372.19,627.66 372.19,627.50 372.20,627.29 372.21,627.05 372.21,626.96 372.22,626.80 372.23,626.59 372.23,626.28 372.24,625.88 372.25,625.43 372.25,625.26 372.26,624.97 372.26,624.58 372.27,624.00 372.28,623.26 372.29,622.40 372.29,622.09 372.30,621.53 372.31,620.78 372.31,619.66 372.32,618.20 372.33,616.48 372.33,615.84 372.34,614.69 372.35,613.16 372.35,610.84 372.36,607.78 372.37,604.19 372.37,602.87 372.38,600.52 372.38,597.49 372.39,593.12 372.40,587.95 372.41,582.93 372.41,581.38 372.42,579.04 372.43,576.77 372.43,574.87 372.44,574.39 372.45,575.38 372.45,575.94 372.46,577.00 372.46,578.34 372.47,579.95 372.48,581.14 372.49,581.44 372.49,581.32 372.50,580.89 372.50,580.03 372.51,578.45 372.52,576.49 372.53,574.97 372.53,574.69 372.54,574.57 372.55,575.09 372.55,577.01 372.56,580.68 372.57,585.42 372.57,587.13 372.58,590.03 372.58,593.49 372.59,597.90 372.60,601.45 372.60,602.40 372.61,606.35 372.61,607.54 372.62,609.39 372.62,611.41 372.63,613.77 372.64,616.05 372.65,617.99 372.65,618.57 372.66,619.47 372.67,620.45 372.67,621.62 372.68,622.76 372.69,623.75 372.69,624.05 372.70,624.52 372.70,625.04 372.71,625.67 372.72,626.30 372.73,626.85 372.73,627.02 372.74,627.30 372.75,627.60 372.75,627.98 372.76,628.36 372.77,628.70 372.77,628.81 372.78,628.98 372.79,629.17 372.79,629.41 372.80,629.66 372.81,629.88 372.81,629.95 372.82,630.07 372.82,630.20 372.83,630.36 372.84,630.53 372.85,630.69 372.85,630.74 372.86,630.82 372.87,630.91 372.87,631.03 372.88,631.15 372.89,631.26 372.89,631.30 372.90,631.36 372.90,631.43 372.91,631.51 372.92,631.60 372.93,631.69 372.93,631.72 372.94,631.76 372.94,631.81 372.95,631.88 372.96,631.95 372.97,632.01 372.97,632.03 372.98,632.07 372.99,632.11 372.99,632.16 373.00,632.21 373.01,632.26 373.01,632.28 373.02,632.31 373.02,632.34 373.03,632.38 373.04,632.42 373.05,632.47 373.05,632.48 373.06,632.50 373.06,632.53 373.07,632.56 373.08,632.59 373.09,632.63 373.09,632.64 373.10,632.66 373.10,632.66 373.11,632.68 373.11,632.71 373.12,632.74 373.13,632.76 373.13,632.77 373.14,632.79 373.14,632.80 373.15,632.83 373.16,632.85 373.17,632.87 373.17,632.88 373.18,632.89 373.19,632.91 373.19,632.93 373.20,632.95 373.21,632.97 373.21,632.98 373.22,632.99 373.23,633.00 373.23,633.01 373.24,633.03 373.25,633.05 373.25,633.05 373.26,633.06 373.26,633.07 373.27,633.09 373.28,633.10 373.29,633.12 373.29,633.12 373.30,633.13 373.31,633.14 373.31,633.15 373.32,633.16 373.33,633.17 373.33,633.18 373.34,633.19 373.35,633.19 373.35,633.20 373.36,633.21 373.37,633.23 373.37,633.23 373.38,633.23 373.38,633.24 373.39,633.25 373.40,633.26 373.41,633.27 373.41,633.27 373.42,633.28 373.43,633.28 373.43,633.29 373.44,633.30 373.45,633.31 373.45,633.31 373.46,633.31 373.46,633.32 373.47,633.33 373.48,633.33 373.49,633.34 373.49,633.34 373.50,633.35 373.50,633.35 373.51,633.36 373.52,633.36 373.53,633.37 373.53,633.37 373.54,633.37 373.55,633.38 373.55,633.38 373.56,633.39 373.57,633.39 373.57,633.40 373.58,633.40 373.58,633.40 373.59,633.41 373.60,633.41 373.60,633.41 373.61,633.42 373.61,633.42 373.62,633.42 373.62,633.42 373.63,633.43 373.64,633.43 373.65,633.43 373.65,633.44 373.66,633.44 373.67,633.44 373.67,633.44 373.68,633.45 373.69,633.45 373.69,633.45 373.70,633.45 373.70,633.45 373.71,633.46 373.72,633.46 373.73,633.46 373.73,633.46 373.74,633.46 373.75,633.47 373.75,633.47 373.76,633.47 373.77,633.47 373.77,633.47 373.78,633.48 373.79,633.48 373.79,633.48 373.80,633.48 373.81,633.48 373.81,633.48 373.82,633.48 373.82,633.48 373.83,633.48 373.84,633.49 373.85,633.49 373.85,633.49 373.86,633.49 373.87,633.49 373.87,633.49 373.88,633.49 373.89,633.49 373.89,633.49 373.90,633.49 373.90,633.49 373.91,633.49 373.92,633.49 373.93,633.49 373.93,633.49 373.94,633.49 373.94,633.49 373.95,633.49 373.96,633.49 373.97,633.49 373.97,633.49 373.98,633.49 373.99,633.49 373.99,633.49 374.00,633.49 374.01,633.49 374.01,633.49 374.02,633.49 374.03,633.49 374.04,633.48 374.05,633.48 374.05,633.48 374.06,633.48 374.07,633.48 374.08,633.48 374.09,633.47 374.09,633.47 374.10,633.47 374.11,633.47 374.11,633.47 374.12,633.47 374.13,633.46 374.14,633.46 374.15,633.46 374.16,633.45 374.17,633.45 374.19,633.44 374.19,633.44 374.20,633.44 374.21,633.43 374.23,633.42 374.23,633.42 374.24,633.42 374.25,633.41 374.26,633.40 374.27,633.40 374.28,633.39 374.29,633.38 374.31,633.37 374.31,633.37 374.32,633.36 374.33,633.35 374.35,633.34 374.35,633.33 374.36,633.32 374.37,633.31 374.38,633.30 374.39,633.29 374.40,633.28 374.41,633.26 374.43,633.25 374.43,633.24 374.44,633.23 374.45,633.21 374.46,633.19 374.47,633.18 374.48,633.16 374.49,633.14 374.50,633.12 374.51,633.10 374.52,633.08 374.53,633.06 374.55,633.03 374.55,633.01 374.56,632.99 374.57,632.96 374.58,632.93 374.59,632.90 374.60,632.88 374.60,632.87 374.61,632.83 374.62,632.80 374.63,632.77 374.64,632.73 374.65,632.68 374.67,632.63 374.67,632.59 374.68,632.55 374.69,632.49 374.70,632.42 374.71,632.37 374.72,632.32 374.73,632.23 374.75,632.15 374.75,632.09 374.76,632.01 374.77,631.90 374.79,631.80 374.79,631.71 374.81,631.46 374.82,631.31 374.83,631.19 374.85,630.84 374.87,630.63 374.87,630.46 374.89,629.95 374.90,629.63 374.91,629.38 374.93,628.60 374.94,628.10 374.95,627.70 374.97,626.41 374.99,625.58 374.99,624.88 375.01,622.59 375.02,621.04 375.03,619.71 375.05,615.11 375.06,611.83 375.07,608.92 375.09,598.27 375.10,594.16 375.11,590.26 375.11,583.00 375.13,556.89 375.14,539.65 375.15,527.09 375.17,509.09 375.19,515.10 375.19,525.12 375.21,557.88 375.23,572.70 375.23,581.65 375.25,598.70 375.26,604.81 375.27,608.39 375.29,615.30 375.31,617.91 375.31,619.48 375.33,622.70 375.35,623.98 375.35,624.78 375.37,626.49 375.38,627.20 375.39,627.65 375.41,628.65 375.43,629.09 375.43,629.37 375.45,630.00 375.46,630.28 375.49,630.90 375.50,631.09 375.53,631.52 375.55,631.65 375.57,631.96 375.60,632.19 375.61,632.30 375.65,632.55 375.69,632.75 375.73,632.91 375.77,633.04 375.81,633.15 375.85,633.24 375.89,633.31 375.93,633.38 375.97,633.43 376.01,633.48 376.05,633.52 376.09,633.55 376.10,633.56 376.13,633.58 376.17,633.61 376.21,633.64 376.25,633.66 376.29,633.68 376.33,633.70 376.37,633.71 376.41,633.73 376.45,633.74 376.49,633.75 376.53,633.76 376.57,633.77 376.60,633.78 376.61,633.78 376.65,633.79 376.69,633.80 376.73,633.81 376.77,633.82 376.81,633.82 376.85,633.83 376.89,633.83 376.93,633.84 376.97,633.84 377.01,633.85 377.05,633.85 377.09,633.86 377.10,633.86 377.13,633.86 377.17,633.87 377.21,633.87 377.25,633.87 377.29,633.88 377.33,633.88 377.37,633.88 377.41,633.88 377.45,633.89 377.49,633.89 377.53,633.89 377.57,633.89 377.60,633.90 377.61,633.90 377.65,633.90 377.69,633.90 377.73,633.90 377.77,633.90 377.81,633.91 377.85,633.91 377.89,633.91 377.93,633.91 377.97,633.91 378.01,633.91 378.05,633.91 378.09,633.91 378.10,633.92 378.13,633.92 378.17,633.92 378.60,633.93 379.10,633.93 379.60,633.94 380.10,633.94 380.60,633.94 381.10,633.93 381.60,633.92 382.10,633.91 382.60,633.89 382.80,633.88 382.84,633.88 382.88,633.88 382.91,633.88 382.92,633.88 382.95,633.87 382.96,633.87 382.99,633.87 383.00,633.87 383.03,633.87 383.04,633.87 383.07,633.87 383.08,633.86 383.10,633.86 383.11,633.86 383.12,633.86 383.15,633.86 383.16,633.86 383.19,633.86 383.20,633.86 383.23,633.85 383.24,633.85 383.27,633.85 383.28,633.85 383.31,633.84 383.32,633.84 383.35,633.84 383.36,633.84 383.39,633.84 383.40,633.84 383.43,633.83 383.44,633.83 383.47,633.83 383.48,633.83 383.51,633.82 383.52,633.82 383.55,633.82 383.56,633.82 383.58,633.81 383.59,633.81 383.60,633.81 383.62,633.81 383.63,633.81 383.64,633.81 383.66,633.80 383.67,633.80 383.68,633.80 383.69,633.80 383.70,633.80 383.71,633.79 383.72,633.79 383.74,633.79 383.74,633.79 383.75,633.79 383.76,633.79 383.77,633.78 383.78,633.78 383.79,633.78 383.80,633.78 383.81,633.78 383.82,633.78 383.83,633.77 383.84,633.77 383.86,633.77 383.86,633.77 383.87,633.77 383.88,633.76 383.89,633.76 383.90,633.76 383.91,633.76 383.92,633.76 383.94,633.75 383.94,633.75 383.95,633.75 383.96,633.75 383.98,633.74 383.98,633.74 383.99,633.74 384.00,633.74 384.01,633.73 384.02,633.73 384.03,633.73 384.04,633.73 384.06,633.72 384.06,633.72 384.07,633.72 384.08,633.72 384.10,633.71 384.10,633.71 384.10,633.71 384.11,633.71 384.12,633.71 384.13,633.70 384.14,633.70 384.15,633.70 384.16,633.70 384.18,633.69 384.18,633.69 384.19,633.69 384.20,633.68 384.21,633.68 384.22,633.67 384.23,633.67 384.24,633.67 384.25,633.66 384.26,633.66 384.27,633.66 384.28,633.65 384.30,633.65 384.30,633.65 384.31,633.64 384.32,633.64 384.33,633.63 384.34,633.63 384.35,633.63 384.36,633.62 384.38,633.62 384.38,633.61 384.39,633.61 384.40,633.60 384.42,633.60 384.42,633.59 384.43,633.59 384.44,633.58 384.45,633.58 384.46,633.57 384.47,633.57 384.48,633.56 384.50,633.55 384.50,633.55 384.51,633.55 384.52,633.54 384.54,633.53 384.54,633.53 384.55,633.52 384.56,633.52 384.57,633.51 384.58,633.50 384.59,633.49 384.60,633.49 384.62,633.48 384.62,633.47 384.63,633.46 384.64,633.46 384.65,633.45 384.66,633.44 384.67,633.43 384.68,633.43 384.69,633.41 384.70,633.41 384.71,633.40 384.72,633.39 384.74,633.38 384.74,633.37 384.75,633.36 384.76,633.35 384.77,633.34 384.78,633.33 384.79,633.32 384.80,633.31 384.81,633.29 384.82,633.28 384.83,633.27 384.84,633.26 384.86,633.24 384.86,633.23 384.87,633.22 384.88,633.20 384.89,633.18 384.90,633.17 384.91,633.16 384.92,633.14 384.94,633.12 384.94,633.11 384.95,633.09 384.96,633.07 384.98,633.05 384.98,633.03 384.99,633.01 385.00,633.00 385.01,632.97 385.02,632.95 385.03,632.93 385.04,632.91 385.06,632.87 385.06,632.85 385.07,632.83 385.08,632.81 385.10,632.76 385.10,632.75 385.10,632.74 385.11,632.71 385.12,632.69 385.13,632.64 385.14,632.61 385.15,632.58 385.16,632.55 385.18,632.49 385.18,632.46 385.19,632.42 385.20,632.39 385.21,632.32 385.22,632.28 385.23,632.23 385.24,632.19 385.25,632.11 385.26,632.06 385.27,632.01 385.28,631.96 385.30,631.85 385.30,631.80 385.31,631.73 385.32,631.67 385.33,631.54 385.34,631.47 385.35,631.39 385.36,631.31 385.38,631.15 385.38,631.06 385.39,630.95 385.40,630.85 385.42,630.65 385.42,630.53 385.43,630.39 385.44,630.26 385.45,629.99 385.46,629.84 385.47,629.65 385.48,629.47 385.50,629.10 385.50,628.89 385.51,628.63 385.52,628.38 385.54,627.86 385.54,627.55 385.55,627.17 385.56,626.80 385.57,626.03 385.58,625.56 385.59,624.98 385.60,624.41 385.62,623.18 385.62,622.42 385.63,621.46 385.64,620.50 385.65,618.38 385.66,617.04 385.67,615.32 385.68,613.55 385.69,609.52 385.70,606.90 385.71,603.46 385.72,599.89 385.74,591.64 385.74,586.31 385.75,579.50 385.76,572.84 385.77,559.70 385.78,553.27 385.79,547.53 385.80,544.37 385.81,543.76 385.82,545.49 385.83,547.99 385.84,549.93 385.86,551.12 385.86,550.07 385.87,547.53 385.88,544.41 385.89,538.47 385.90,536.73 385.91,537.17 385.92,540.07 385.94,550.89 385.94,558.29 385.95,566.85 385.96,574.12 385.98,586.01 385.98,591.29 385.99,596.41 386.00,600.29 386.01,606.18 386.02,608.72 386.03,611.17 386.04,613.04 386.06,615.92 386.06,617.19 386.07,618.44 386.08,619.41 386.10,620.94 386.10,621.38 386.10,621.62 386.11,622.30 386.12,622.84 386.13,623.68 386.14,624.06 386.15,624.44 386.16,624.73 386.18,625.19 386.18,625.39 386.19,625.58 386.20,625.72 386.21,625.92 386.22,625.99 386.23,626.05 386.24,626.07 386.25,626.06 386.26,626.03 386.27,625.96 386.28,625.87 386.30,625.65 386.30,625.50 386.31,625.29 386.32,625.08 386.33,624.59 386.34,624.28 386.35,623.89 386.36,623.49 386.38,622.60 386.38,622.04 386.39,621.33 386.40,620.62 386.42,619.03 386.42,618.02 386.43,616.72 386.44,615.40 386.45,612.41 386.46,610.46 386.47,607.93 386.48,605.29 386.50,599.18 386.50,595.15 386.51,589.84 386.52,584.36 386.54,571.99 386.54,564.40 386.55,555.43 386.56,547.63 386.57,536.10 386.58,532.95 386.59,532.39 386.60,534.21 386.62,540.70 386.62,544.24 386.63,547.26 386.64,548.73 386.65,548.21 386.66,546.54 386.67,544.25 386.68,542.61 386.69,543.21 386.70,546.32 386.71,552.02 386.72,558.46 386.74,571.70 386.74,578.46 386.75,585.37 386.76,590.80 386.77,599.20 386.78,602.84 386.79,606.35 386.80,609.03 386.81,613.14 386.82,614.94 386.83,616.70 386.84,618.07 386.86,620.23 386.86,621.21 386.87,622.18 386.88,622.96 386.89,624.22 386.90,624.80 386.91,625.39 386.92,625.87 386.94,626.66 386.94,627.03 386.95,627.42 386.96,627.74 386.98,628.27 386.98,628.52 386.99,628.79 387.00,629.01 387.01,629.38 387.02,629.57 387.03,629.76 387.04,629.92 387.06,630.19 387.06,630.33 387.07,630.47 387.08,630.59 387.10,630.80 387.10,630.86 387.10,630.90 387.11,631.01 387.12,631.10 387.13,631.26 387.14,631.34 387.15,631.43 387.16,631.50 387.18,631.63 387.18,631.69 387.19,631.76 387.20,631.82 387.21,631.92 387.22,631.97 387.23,632.03 387.24,632.08 387.25,632.16 387.26,632.21 387.27,632.25 387.28,632.29 387.30,632.36 387.30,632.40 387.31,632.44 387.32,632.47 387.33,632.53 387.34,632.56 387.35,632.59 387.36,632.62 387.38,632.67 387.38,632.70 387.39,632.72 387.40,632.75 387.42,632.79 387.42,632.81 387.43,632.84 387.44,632.86 387.45,632.89 387.46,632.91 387.47,632.93 387.48,632.95 387.50,632.99 387.50,633.00 387.51,633.02 387.52,633.04 387.54,633.07 387.54,633.08 387.55,633.10 387.56,633.11 387.57,633.14 387.58,633.15 387.59,633.16 387.60,633.17 387.62,633.20 387.62,633.21 387.63,633.22 387.64,633.23 387.65,633.25 387.66,633.26 387.67,633.27 387.68,633.28 387.69,633.30 387.70,633.31 387.71,633.32 387.72,633.33 387.74,633.35 387.74,633.36 387.75,633.36 387.76,633.37 387.77,633.39 387.78,633.39 387.79,633.40 387.80,633.41 387.81,633.42 387.82,633.43 387.83,633.44 387.84,633.44 387.86,633.46 387.86,633.46 387.87,633.47 387.88,633.48 387.89,633.49 387.90,633.49 387.91,633.50 387.92,633.50 387.94,633.51 387.94,633.52 387.95,633.53 387.96,633.53 387.98,633.54 387.98,633.54 387.99,633.55 388.00,633.55 388.01,633.56 388.02,633.57 388.03,633.57 388.04,633.58 388.06,633.58 388.06,633.59 388.07,633.59 388.08,633.60 388.10,633.60 388.10,633.61 388.10,633.61 388.11,633.61 388.12,633.62 388.13,633.62 388.14,633.63 388.15,633.63 388.16,633.63 388.18,633.64 388.18,633.64 388.19,633.65 388.20,633.65 388.21,633.66 388.22,633.66 388.23,633.66 388.24,633.67 388.25,633.67 388.26,633.67 388.27,633.68 388.28,633.68 388.30,633.68 388.30,633.69 388.31,633.69 388.32,633.69 388.33,633.70 388.34,633.70 388.35,633.70 388.36,633.71 388.38,633.71 388.38,633.71 388.39,633.72 388.40,633.72 388.42,633.72 388.42,633.72 388.43,633.73 388.44,633.73 388.45,633.73 388.46,633.73 388.47,633.74 388.48,633.74 388.50,633.74 388.50,633.74 388.51,633.75 388.52,633.75 388.54,633.75 388.54,633.75 388.55,633.76 388.56,633.76 388.57,633.76 388.58,633.76 388.59,633.76 388.60,633.77 388.62,633.77 388.62,633.77 388.63,633.77 388.64,633.77 388.65,633.78 388.66,633.78 388.67,633.78 388.68,633.78 388.69,633.78 388.70,633.79 388.71,633.79 388.72,633.79 388.74,633.79 388.74,633.79 388.75,633.79 388.76,633.80 388.77,633.80 388.78,633.80 388.79,633.80 388.80,633.80 388.81,633.81 388.82,633.81 388.83,633.81 388.86,633.81 388.86,633.81 388.87,633.81 388.89,633.82 388.90,633.82 388.91,633.82 388.94,633.82 388.94,633.82 388.98,633.83 388.98,633.83 389.01,633.83 389.02,633.83 389.06,633.84 389.06,633.84 389.10,633.84 389.10,633.84 389.10,633.84 389.13,633.85 389.14,633.85 389.18,633.85 389.18,633.85 389.21,633.86 389.22,633.86 389.25,633.86 389.26,633.86 389.30,633.86 389.30,633.86 389.33,633.87 389.34,633.87 389.38,633.87 389.38,633.87 389.42,633.87 389.42,633.87 389.45,633.88 389.46,633.88 389.50,633.88 389.50,633.88 389.54,633.88 389.54,633.88 389.57,633.89 389.58,633.89 389.60,633.89 389.62,633.89 389.65,633.89 389.69,633.89 390.10,633.91 390.60,633.93 391.10,633.94 391.60,633.95 392.10,633.96 392.60,633.97 393.10,633.97 393.60,633.97 394.10,633.98 394.60,633.98 395.10,633.98 395.60,633.98 396.10,633.98 396.60,633.99 397.10,633.99 397.60,633.99 398.10,633.99 398.60,633.99 399.10,633.99 399.60,633.99 400.10,633.99 400.60,633.99 401.10,633.99 401.60,633.99 402.10,633.99 402.60,633.99 403.10,633.99 403.60,633.99 404.10,633.99 404.60,633.99 405.10,633.99 405.60,633.99 406.10,634.00 406.60,634.00 407.10,634.00 407.60,634.00 408.10,634.00 408.60,634.00 409.10,634.00 409.60,634.00 410.10,634.00 410.60,634.00 411.10,634.00 411.60,634.00 412.10,634.00 412.60,634.00 413.10,634.00 413.60,634.00 414.10,634.00 414.60,634.00 415.10,634.00 415.60,634.00 416.10,634.00 416.60,634.00 417.10,634.00 417.60,634.00 418.10,634.00 418.60,634.00 419.10,634.00 419.60,634.00 420.10,634.00 420.60,634.00 421.10,634.00 421.60,634.00 422.10,634.00 422.60,634.00 423.10,634.00 423.60,634.00 424.10,634.00 424.60,634.00 425.10,634.00 425.60,634.00 426.10,634.00 426.60,634.00 427.10,634.00 427.60,634.00 428.10,634.00 428.60,634.00 429.10,634.00 429.60,634.00 430.10,634.00 430.60,634.00 431.10,634.00 431.60,634.00 432.10,634.00 432.60,634.00 433.10,634.00 433.60,634.00 434.10,634.00 434.60,634.00 435.10,634.00 435.60,634.00 436.10,634.00 436.60,634.00 437.10,634.00 437.60,634.00 438.10,634.00 438.60,634.00 439.10,634.00 439.60,634.00 440.10,634.00 440.60,634.00 441.10,634.00 441.60,634.00 442.10,634.00 442.60,634.00 443.10,634.00 443.60,634.00 444.10,634.00 444.60,634.00 445.10,634.00 445.60,634.00 446.10,634.00 446.60,634.00 447.10,634.00 447.60,634.00 448.10,634.00 448.60,634.00 449.10,634.00 449.60,634.00 450.10,634.00 450.60,634.00 451.10,634.00 451.60,634.00 452.10,634.00 452.60,634.00 453.10,634.00 453.60,634.00 454.10,634.00 454.60,634.00 455.10,634.00 455.60,634.00 456.10,634.00 456.60,634.00 457.10,634.00 457.60,634.00 458.10,634.00 458.60,634.00 459.10,634.00 459.60,634.00 460.10,634.00 460.60,634.00 461.10,634.00 461.60,634.00 462.10,634.00 462.60,634.00 463.10,634.00 463.60,634.00 464.10,634.00 464.60,634.00 465.10,634.00 465.60,634.00 466.10,634.00 466.60,634.00 467.10,634.00 467.60,634.00 468.10,634.00 468.60,634.00 469.10,634.00 469.60,634.00 470.10,634.00 470.60,634.00 471.10,634.00 471.60,634.00 472.10,634.00 472.60,634.00 473.10,634.00 473.60,634.00 474.10,634.00 474.60,634.00 475.10,634.00 475.60,634.00 476.10,634.00 476.60,634.00 477.10,634.00 477.60,634.00 478.10,634.00 478.60,634.00 479.10,634.00 479.60,634.00 480.10,634.00 480.60,634.00 481.10,634.00 481.60,634.00 482.10,634.00 482.60,634.00 483.10,634.00 483.60,634.00 484.10,634.00 484.60,634.00 485.10,634.00 485.60,634.00 486.10,634.00 486.60,634.00 487.10,634.00 487.60,634.00 488.10,634.00 488.60,634.00 489.10,634.00 489.60,634.00 490.10,634.00 490.60,634.00 491.10,634.00 491.60,634.00 492.10,634.00 492.60,634.00 493.10,634.00 493.60,634.00 494.10,634.00 494.60,634.00 495.10,634.00 495.60,634.00 496.10,634.00 496.60,634.00 497.10,634.00 497.60,634.00 498.10,634.00 498.60,634.00 499.10,634.00 499.60,634.00 500.10,634.00 500.60,634.00 501.10,634.00 501.60,634.00 502.10,634.00 502.60,634.00 503.10,634.00 503.60,634.00 504.10,634.00 504.60,634.00 505.10,634.00 505.60,634.00 506.10,634.00 506.60,634.00 507.10,634.00 507.60,634.00 508.10,634.00 508.60,634.00 509.10,634.00 509.60,634.00 510.10,634.00 510.60,634.00 511.10,634.00 511.60,634.00 512.10,634.00 512.60,634.00 513.10,634.00 513.60,634.00 514.10,634.00 514.60,634.00 515.10,634.00 515.60,634.00 516.10,634.00 516.60,634.00 517.10,634.00 517.60,634.00 518.10,634.00 518.60,634.00 519.10,634.00 519.60,634.00 520.10,634.00 520.60,634.00 521.10,634.00 521.60,634.00 522.10,634.00 522.60,634.00 523.10,634.00 523.60,634.00 524.10,634.00 524.60,634.00 525.10,634.00 525.60,634.00 526.10,634.00 526.60,634.00 527.10,634.00 527.60,634.00 528.10,634.00 528.60,634.00 529.10,634.00 529.60,634.00 530.10,634.00 530.60,634.00 531.10,634.00 531.60,634.00 532.10,634.00 532.60,634.00 533.10,634.00 533.60,634.00 534.10,634.00 534.60,634.00 535.10,634.00 535.60,634.00 536.10,634.00 536.60,634.00 537.10,634.00 537.60,634.00 538.10,634.00 538.60,634.00 539.10,634.00 539.60,634.00 540.10,634.00 540.60,634.00 541.10,634.00 541.60,634.00 542.10,634.00 542.60,634.00 543.10,634.00 543.60,634.00 544.10,634.00 544.60,634.00 545.10,634.00 545.60,634.00 546.10,634.00 546.60,634.00 547.10,634.00 547.60,634.00 548.10,634.00 548.60,634.00 549.10,634.00 549.60,634.00 550.10,634.00 550.60,634.00 551.10,634.00 551.60,634.00 552.10,634.00 552.60,634.00 553.10,634.00 553.60,634.00 554.10,634.00 554.60,634.00 555.10,634.00 555.60,634.00 556.10,634.00 556.60,634.00 557.10,634.00 557.60,634.00 558.10,634.00 558.60,634.00 559.10,634.00 559.60,634.00 560.10,634.00 560.60,634.00 561.10,634.00 561.60,634.00 562.10,634.00 562.60,634.00 563.10,634.00 563.60,634.00 564.10,634.00 564.60,634.00 565.10,634.00 565.60,634.00 566.10,634.00 566.60,634.00 567.10,634.00 567.60,634.00 568.10,634.00 568.60,634.00 569.10,634.00 569.60,634.00 570.10,634.00 570.60,634.00 571.10,634.00 571.60,634.00 572.10,634.00 572.60,634.00 573.10,634.00 573.60,634.00 574.10,634.00 574.60,634.00 575.10,634.00 575.60,634.00 576.10,634.00 576.60,634.00 577.10,634.00 577.60,634.00 578.10,634.00 578.60,634.00 579.10,634.00 579.60,634.00 580.10,634.00 580.60,634.00 581.10,634.00 581.60,634.00 582.10,634.00 582.60,634.00 583.10,634.00 583.60,634.00 584.10,634.00 584.60,634.00 585.10,634.00 585.60,634.00 586.10,634.00 586.60,634.00 587.10,634.00 587.60,634.00 588.10,634.00 588.60,634.00 589.10,634.00 589.60,634.00 590.10,634.00 590.60,634.00 591.10,634.00 591.60,634.00 592.10,634.00 592.60,634.00 593.10,634.00 593.60,634.00 594.10,634.00 594.60,634.00 595.10,634.00 595.60,634.00 596.10,634.00 596.60,634.00 597.10,634.00 597.60,634.00 598.10,634.00 598.60,634.00 599.10,634.00 599.60,634.00 600.10,634.00 600.60,634.00 601.10,634.00 601.60,634.00 602.10,634.00 602.60,634.00 603.10,634.00 603.60,634.00 604.10,634.00 604.60,634.00 605.10,634.00 605.60,634.00 606.10,634.00 606.60,634.00 607.10,634.00 607.60,634.00 608.10,634.00 608.60,634.00 609.10,634.00 609.60,634.00 610.10,634.00 610.60,634.00 611.10,634.00 611.60,634.00 612.10,634.00 612.60,634.00 613.10,634.00 613.60,634.00 614.10,634.00 614.60,634.00 615.10,634.00 615.60,634.00 616.10,634.00 616.60,634.00 617.10,634.00 617.60,634.00 618.10,634.00 618.60,634.00 619.10,634.00 619.60,634.00 620.10,634.00 620.60,634.00 621.10,634.00 621.60,634.00 622.10,634.00 622.60,634.00 623.10,634.00 623.60,634.00 624.10,634.00 624.60,634.00 625.10,634.00 625.60,634.00 626.10,634.00 626.60,634.00 627.10,634.00 627.60,634.00 628.10,634.00 628.60,634.00 629.10,634.00 629.60,634.00 630.10,634.00 630.60,634.00 631.10,634.00 631.60,634.00 631.91,633.99 631.95,633.99 631.99,633.99 632.03,633.99 632.07,633.99 632.10,633.99 632.11,633.99 632.15,633.99 632.19,633.99 632.23,633.99 632.27,633.99 632.31,633.99 632.35,633.99 632.39,633.99 632.43,633.99 632.47,633.99 632.51,633.99 632.55,633.99 632.59,633.99 632.60,633.99 632.63,633.99 632.67,633.99 632.71,633.99 632.75,633.99 632.79,633.99 632.83,633.99 632.87,633.99 632.91,633.99 632.95,633.99 632.99,633.99 633.03,633.99 633.07,633.99 633.10,633.99 633.11,633.99 633.15,633.98 633.19,633.98 633.23,633.98 633.27,633.98 633.31,633.98 633.35,633.98 633.39,633.98 633.43,633.98 633.47,633.98 633.51,633.98 633.55,633.97 633.59,633.97 633.60,633.97 633.63,633.97 633.67,633.97 633.71,633.97 633.75,633.96 633.79,633.96 633.83,633.96 633.87,633.96 633.91,633.95 633.95,633.95 633.99,633.94 634.03,633.94 634.07,633.93 634.10,633.93 634.11,633.93 634.15,633.92 634.19,633.91 634.23,633.90 634.27,633.89 634.31,633.87 634.35,633.85 634.39,633.83 634.43,633.80 634.47,633.77 634.51,633.72 634.55,633.66 634.59,633.58 634.60,633.57 634.63,633.48 634.67,633.32 634.71,633.09 634.75,632.75 634.79,632.23 634.83,631.48 634.87,630.62 634.91,630.20 634.95,630.64 634.99,631.49 635.03,632.24 635.07,632.76 635.10,633.00 635.11,633.10 635.15,633.32 635.19,633.48 635.23,633.59 635.27,633.67 635.31,633.72 635.35,633.77 635.39,633.80 635.43,633.83 635.47,633.85 635.51,633.87 635.55,633.89 635.59,633.90 635.60,633.90 635.63,633.91 635.67,633.92 635.71,633.93 635.75,633.93 635.79,633.94 635.83,633.94 635.87,633.95 635.91,633.95 635.95,633.96 635.99,633.96 636.03,633.96 636.07,633.96 636.10,633.97 636.11,633.97 636.15,633.97 636.19,633.97 636.23,633.97 636.27,633.97 636.31,633.98 636.35,633.98 636.39,633.98 636.43,633.98 636.47,633.98 636.51,633.98 636.55,633.98 636.59,633.98 636.60,633.98 636.63,633.98 636.67,633.98 636.71,633.99 636.75,633.99 636.79,633.99 636.83,633.99 636.87,633.99 636.91,633.99 636.95,633.99 636.99,633.99 637.03,633.99 637.07,633.99 637.10,633.99 637.11,633.99 637.15,633.99 637.19,633.99 637.23,633.99 637.27,633.99 637.31,633.99 637.35,633.99 637.39,633.99 637.43,633.99 637.47,633.99 637.51,633.99 637.55,633.99 637.59,633.99 637.60,633.99 637.63,633.99 637.67,633.99 637.71,633.99 637.75,633.99 637.79,633.99 637.83,633.99 637.87,633.99 637.91,633.99 638.10,633.99 638.60,634.00 639.10,634.00 639.60,634.00 640.10,634.00 640.60,634.00 641.10,634.00 641.60,634.00 642.10,634.00 642.60,634.00 643.10,634.00 643.60,634.00 644.10,634.00 644.60,634.00 645.10,634.00 645.60,634.00 646.10,634.00 646.60,634.00 647.10,634.00 647.60,634.00 648.10,634.00 648.60,634.00 649.10,634.00 649.60,634.00 650.10,634.00 650.60,634.00 651.10,634.00 651.60,634.00 652.10,634.00 652.60,634.00 653.10,634.00 653.60,634.00 654.10,634.00 654.60,634.00 655.10,634.00 655.60,634.00 656.10,634.00 656.60,634.00 657.10,634.00 657.60,633.99 658.03,633.99 658.07,633.99 658.10,633.99 658.11,633.99 658.15,633.99 658.19,633.99 658.23,633.99 658.27,633.99 658.31,633.99 658.35,633.99 658.39,633.99 658.43,633.99 658.47,633.99 658.51,633.99 658.55,633.99 658.59,633.99 658.60,633.99 658.63,633.99 658.67,633.99 658.71,633.99 658.75,633.99 658.79,633.99 658.83,633.99 658.87,633.99 658.91,633.99 658.95,633.99 658.99,633.98 659.03,633.98 659.07,633.98 659.10,633.98 659.11,633.98 659.15,633.98 659.19,633.98 659.23,633.98 659.27,633.98 659.31,633.98 659.35,633.98 659.39,633.98 659.43,633.98 659.47,633.97 659.51,633.97 659.55,633.97 659.59,633.97 659.60,633.97 659.63,633.97 659.67,633.97 659.71,633.96 659.75,633.96 659.79,633.96 659.83,633.96 659.87,633.96 659.91,633.95 659.95,633.95 659.99,633.95 660.03,633.94 660.07,633.94 660.10,633.93 660.11,633.93 660.15,633.93 660.19,633.92 660.23,633.91 660.27,633.90 660.31,633.89 660.35,633.88 660.39,633.87 660.43,633.86 660.47,633.84 660.51,633.82 660.55,633.80 660.59,633.77 660.60,633.76 660.63,633.74 660.67,633.70 660.71,633.65 660.75,633.60 660.79,633.54 660.83,633.47 660.87,633.40 660.91,633.32 660.95,633.26 660.99,633.22 661.03,633.20 661.07,633.22 661.10,633.24 661.11,633.26 661.15,633.32 661.19,633.40 661.23,633.47 661.27,633.54 661.31,633.60 661.35,633.65 661.39,633.70 661.43,633.74 661.47,633.77 661.51,633.80 661.55,633.82 661.59,633.84 661.60,633.84 661.63,633.86 661.67,633.87 661.71,633.88 661.75,633.89 661.79,633.90 661.83,633.91 661.87,633.92 661.91,633.93 661.95,633.93 661.99,633.94 662.03,633.94 662.07,633.95 662.10,633.95 662.11,633.95 662.15,633.95 662.19,633.96 662.23,633.96 662.27,633.96 662.31,633.96 662.35,633.96 662.39,633.97 662.43,633.97 662.47,633.97 662.51,633.97 662.55,633.97 662.59,633.97 662.60,633.97 662.63,633.98 662.67,633.98 662.71,633.98 662.75,633.98 662.79,633.98 662.83,633.98 662.87,633.98 662.91,633.98 662.95,633.98 662.99,633.98 663.03,633.98 663.07,633.98 663.10,633.98 663.11,633.99 663.15,633.99 663.19,633.99 663.23,633.99 663.27,633.99 663.31,633.99 663.35,633.99 663.39,633.99 663.43,633.99 663.47,633.99 663.51,633.99 663.55,633.99 663.59,633.99 663.60,633.99 663.63,633.99 663.67,633.99 663.71,633.99 663.75,633.99 663.79,633.99 663.83,633.99 663.87,633.99 663.91,633.99 663.95,633.99 663.99,633.99 664.03,633.99 664.10,633.99 664.60,633.99 665.10,634.00 665.60,634.00 666.10,634.00 666.60,634.00 667.10,634.00 667.60,634.00 668.10,634.00 668.60,634.00 669.10,634.00 669.60,634.00 670.10,634.00 670.60,634.00 671.10,634.00 671.60,634.00 672.10,634.00 672.60,634.00 673.10,634.00 673.60,634.00 674.10,634.00 674.60,634.00 675.10,634.00 675.60,634.00 676.10,634.00 676.60,634.00 677.10,634.00 677.60,634.00 678.10,634.00 678.60,634.00 679.10,634.00 679.60,634.00 680.10,634.00 680.60,634.00 681.10,634.00 681.60,634.00 682.10,634.00 682.60,634.00 683.10,634.00 683.60,634.00 684.10,634.00 684.60,633.99 685.10,633.99 685.60,633.99 686.10,633.99 686.60,633.99 687.10,633.99 687.60,633.99 688.10,633.99 688.60,633.98 689.10,633.98 689.60,633.98 690.10,633.97 690.60,633.96 690.81,633.95 690.85,633.95 690.89,633.95 690.93,633.95 690.97,633.95 691.01,633.95 691.05,633.95 691.09,633.94 691.10,633.94 691.13,633.94 691.17,633.94 691.21,633.94 691.25,633.94 691.29,633.94 691.33,633.93 691.37,633.93 691.41,633.93 691.45,633.93 691.49,633.92 691.53,633.92 691.57,633.92 691.60,633.92 691.61,633.92 691.65,633.91 691.69,633.91 691.73,633.91 691.77,633.90 691.81,633.90 691.85,633.89 691.89,633.89 691.93,633.88 691.97,633.88 692.01,633.87 692.05,633.87 692.09,633.86 692.10,633.86 692.13,633.86 692.17,633.85 692.21,633.84 692.25,633.83 692.29,633.82 692.33,633.81 692.37,633.80 692.41,633.79 692.45,633.78 692.49,633.77 692.53,633.75 692.57,633.74 692.60,633.72 692.61,633.72 692.65,633.70 692.69,633.68 692.73,633.65 692.77,633.62 692.81,633.59 692.85,633.56 692.89,633.52 692.93,633.48 692.97,633.43 693.01,633.37 693.05,633.30 693.09,633.22 693.10,633.19 693.13,633.13 693.17,633.01 693.21,632.88 693.25,632.72 693.29,632.51 693.33,632.26 693.37,631.93 693.41,631.51 693.45,630.94 693.49,630.15 693.53,629.01 693.57,627.31 693.60,625.16 693.61,624.57 693.65,619.85 693.69,610.80 693.73,591.30 693.77,547.95 693.81,504.20 693.85,548.30 693.89,591.47 693.93,610.87 693.97,619.88 694.01,624.59 694.05,627.32 694.09,629.02 694.10,629.44 694.13,630.15 694.17,630.94 694.21,631.51 694.25,631.94 694.29,632.26 694.33,632.52 694.37,632.72 694.41,632.88 694.45,633.02 694.49,633.13 694.53,633.22 694.57,633.30 694.60,633.36 694.61,633.37 694.65,633.43 694.69,633.48 694.73,633.52 694.77,633.56 694.81,633.59 694.85,633.62 694.89,633.65 694.93,633.68 694.97,633.70 695.01,633.72 695.05,633.74 695.09,633.75 695.10,633.76 695.13,633.77 695.17,633.78 695.21,633.79 695.25,633.80 695.29,633.81 695.33,633.82 695.37,633.83 695.41,633.84 695.45,633.85 695.49,633.86 695.53,633.86 695.57,633.87 695.60,633.87 695.61,633.87 695.65,633.88 695.69,633.88 695.73,633.89 695.77,633.89 695.81,633.90 695.85,633.90 695.89,633.90 695.93,633.91 695.97,633.91 696.01,633.91 696.05,633.92 696.09,633.92 696.10,633.92 696.13,633.92 696.17,633.93 696.21,633.93 696.25,633.93 696.29,633.93 696.33,633.93 696.37,633.94 696.41,633.94 696.45,633.94 696.49,633.94 696.53,633.94 696.57,633.95 696.60,633.95 696.61,633.95 696.65,633.95 696.69,633.95 696.73,633.95 696.77,633.95 696.81,633.95 697.10,633.96 697.60,633.97 698.10,633.98 698.60,633.98 699.10,633.98 699.60,633.99 700.10,633.99 700.60,633.99 701.10,633.99 701.60,633.99 702.10,633.99 702.60,633.99 703.10,633.99 703.60,633.99 704.10,633.99 704.60,633.99 705.10,633.99 705.60,633.99 706.10,633.99 706.60,633.99 706.69,633.98 706.73,633.98 706.77,633.98 706.81,633.98 706.85,633.98 706.89,633.98 706.93,633.98 706.97,633.98 707.01,633.98 707.05,633.98 707.09,633.98 707.10,633.98 707.13,633.98 707.17,633.98 707.21,633.98 707.25,633.98 707.29,633.98 707.33,633.98 707.37,633.98 707.41,633.98 707.45,633.98 707.49,633.98 707.53,633.98 707.57,633.98 707.60,633.98 707.61,633.98 707.65,633.98 707.69,633.98 707.73,633.98 707.77,633.98 707.81,633.97 707.85,633.97 707.89,633.97 707.93,633.97 707.97,633.97 708.01,633.97 708.05,633.97 708.09,633.97 708.10,633.97 708.13,633.97 708.17,633.97 708.21,633.97 708.25,633.97 708.29,633.97 708.31,633.96 708.33,633.96 708.35,633.96 708.37,633.96 708.39,633.96 708.41,633.96 708.43,633.96 708.45,633.96 708.47,633.96 708.49,633.96 708.51,633.96 708.53,633.96 708.55,633.96 708.57,633.96 708.59,633.96 708.60,633.96 708.61,633.95 708.63,633.95 708.65,633.95 708.67,633.95 708.69,633.95 708.71,633.95 708.73,633.95 708.75,633.95 708.77,633.95 708.79,633.94 708.81,633.94 708.83,633.94 708.85,633.94 708.87,633.94 708.89,633.94 708.91,633.94 708.93,633.93 708.95,633.93 708.97,633.93 708.99,633.93 709.01,633.93 709.03,633.92 709.05,633.92 709.07,633.92 709.09,633.91 709.10,633.91 709.11,633.91 709.13,633.91 709.15,633.90 709.17,633.90 709.19,633.90 709.21,633.89 709.23,633.88 709.25,633.88 709.27,633.87 709.29,633.86 709.31,633.86 709.33,633.85 709.35,633.83 709.37,633.82 709.39,633.81 709.41,633.79 709.43,633.77 709.45,633.75 709.47,633.72 709.49,633.70 709.51,633.66 709.53,633.62 709.55,633.57 709.57,633.51 709.59,633.45 709.60,633.42 709.61,633.39 709.63,633.31 709.65,633.26 709.67,633.22 709.69,633.20 709.71,633.22 709.73,633.25 709.75,633.31 709.77,633.37 709.79,633.44 709.81,633.49 709.83,633.55 709.85,633.58 709.87,633.63 709.89,633.65 709.91,633.68 709.93,633.70 709.95,633.72 709.97,633.73 709.99,633.74 710.01,633.75 710.03,633.76 710.05,633.76 710.07,633.77 710.09,633.77 710.10,633.77 710.11,633.77 710.13,633.77 710.15,633.77 710.17,633.77 710.19,633.77 710.21,633.76 710.23,633.76 710.25,633.76 710.27,633.75 710.29,633.74 710.31,633.74 710.33,633.73 710.35,633.72 710.37,633.72 710.39,633.70 710.41,633.70 710.43,633.68 710.45,633.67 710.47,633.66 710.49,633.65 710.51,633.63 710.53,633.61 710.55,633.59 710.57,633.58 710.59,633.55 710.60,633.54 710.61,633.53 710.63,633.50 710.65,633.48 710.67,633.45 710.69,633.42 710.71,633.38 710.73,633.34 710.75,633.29 710.77,633.25 710.79,633.19 710.81,633.14 710.83,633.06 710.85,633.00 710.87,632.91 710.89,632.82 710.91,632.70 710.93,632.60 710.95,632.44 710.97,632.30 710.99,632.10 711.01,631.91 711.03,631.64 711.05,631.38 711.07,631.00 711.09,630.64 711.10,630.44 711.11,630.12 711.13,629.61 711.15,628.88 711.17,628.18 711.19,627.20 711.21,626.29 711.23,625.10 711.25,624.13 711.27,623.09 711.29,622.48 711.31,622.20 711.33,622.39 711.35,623.09 711.37,623.93 711.39,625.11 711.41,626.09 711.43,627.20 711.45,628.02 711.47,628.89 711.49,629.49 711.51,630.12 711.53,630.56 711.55,631.01 711.57,631.32 711.59,631.64 711.60,631.73 711.61,631.87 711.63,632.10 711.65,632.27 711.67,632.45 711.69,632.58 711.71,632.71 711.73,632.81 711.75,632.91 711.77,632.99 711.79,633.07 711.81,633.13 711.83,633.20 711.85,633.25 711.87,633.30 711.89,633.34 711.91,633.39 711.93,633.42 711.95,633.46 711.97,633.49 711.99,633.52 712.01,633.54 712.03,633.57 712.05,633.59 712.07,633.61 712.09,633.63 712.10,633.64 712.11,633.65 712.13,633.66 712.15,633.68 712.17,633.69 712.19,633.71 712.21,633.72 712.23,633.73 712.25,633.74 712.27,633.75 712.29,633.76 712.31,633.77 712.33,633.78 712.35,633.79 712.37,633.79 712.39,633.80 712.41,633.81 712.43,633.82 712.45,633.82 712.47,633.83 712.49,633.83 712.51,633.84 712.53,633.84 712.55,633.85 712.57,633.85 712.59,633.86 712.60,633.86 712.61,633.86 712.63,633.87 712.65,633.87 712.67,633.87 712.69,633.88 712.71,633.88 712.75,633.89 712.79,633.89 712.83,633.90 712.87,633.90 712.91,633.91 712.95,633.91 712.99,633.92 713.03,633.92 713.07,633.92 713.10,633.93 713.11,633.93 713.15,633.93 713.19,633.93 713.23,633.94 713.27,633.94 713.31,633.94 713.35,633.94 713.39,633.94 713.43,633.95 713.47,633.95 713.51,633.95 713.55,633.95 713.59,633.95 713.60,633.95 713.63,633.95 713.67,633.96 713.71,633.96 713.75,633.96 713.79,633.96 713.83,633.96 713.87,633.96 713.91,633.96 713.95,633.96 713.99,633.97 714.03,633.97 714.07,633.97 714.10,633.97 714.11,633.97 714.15,633.97 714.19,633.97 714.23,633.97 714.27,633.97 714.31,633.97 714.60,633.98 715.10,633.98 715.60,633.99 716.10,633.99 716.60,633.99 717.10,633.99 717.60,633.99 718.10,633.99 718.60,633.99 719.10,633.99 719.60,633.99 720.10,634.00 720.60,634.00 721.10,634.00 721.60,634.00 722.10,634.00 722.60,634.00 723.10,634.00 723.60,634.00 724.10,634.00 724.60,634.00 725.10,634.00 725.60,634.00 726.10,634.00 726.60,633.99 727.10,633.99 727.60,633.99 728.10,633.99 728.60,633.99 729.10,633.99 729.17,633.99 729.22,633.99 729.25,633.99 729.29,633.99 729.34,633.99 729.38,633.99 729.41,633.99 729.46,633.98 729.50,633.98 729.53,633.98 729.58,633.98 729.60,633.98 729.62,633.98 729.65,633.98 729.70,633.98 729.74,633.98 729.77,633.98 729.82,633.98 729.86,633.98 729.89,633.98 729.93,633.98 729.98,633.98 730.01,633.98 730.05,633.98 730.10,633.98 730.10,633.98 730.13,633.98 730.17,633.97 730.18,633.97 730.22,633.97 730.22,633.97 730.25,633.97 730.26,633.97 730.29,633.97 730.30,633.97 730.34,633.97 730.34,633.97 730.38,633.97 730.38,633.97 730.41,633.97 730.42,633.97 730.46,633.97 730.46,633.97 730.50,633.97 730.50,633.96 730.53,633.96 730.54,633.96 730.58,633.96 730.58,633.96 730.60,633.96 730.62,633.96 730.62,633.96 730.65,633.96 730.66,633.96 730.70,633.96 730.70,633.96 730.74,633.95 730.74,633.95 730.77,633.95 730.78,633.95 730.82,633.95 730.82,633.95 730.86,633.95 730.86,633.95 730.89,633.94 730.90,633.94 730.93,633.94 730.94,633.94 730.98,633.94 730.98,633.94 731.01,633.93 731.02,633.93 731.05,633.93 731.06,633.93 731.10,633.92 731.10,633.92 731.10,633.92 731.13,633.92 731.14,633.92 731.17,633.91 731.18,633.91 731.22,633.91 731.22,633.91 731.25,633.90 731.26,633.90 731.29,633.89 731.30,633.89 731.34,633.88 731.34,633.88 731.38,633.87 731.38,633.87 731.41,633.86 731.42,633.86 731.46,633.85 731.46,633.84 731.50,633.83 731.50,633.83 731.53,633.81 731.54,633.81 731.58,633.79 731.58,633.79 731.60,633.78 731.62,633.77 731.62,633.76 731.65,633.74 731.66,633.73 731.70,633.70 731.70,633.69 731.74,633.66 731.74,633.65 731.77,633.60 731.78,633.59 731.82,633.54 731.82,633.53 731.86,633.46 731.86,633.45 731.89,633.36 731.90,633.35 731.93,633.25 731.94,633.22 731.98,633.10 731.98,633.07 732.01,632.94 732.02,632.90 732.05,632.75 732.06,632.72 732.10,632.58 732.10,632.56 732.10,632.55 732.13,632.45 732.14,632.43 732.17,632.40 732.18,632.40 732.22,632.44 732.22,632.46 732.25,632.57 732.26,632.60 732.29,632.74 732.30,632.77 732.34,632.91 732.34,632.94 732.38,633.07 732.38,633.09 732.41,633.20 732.42,633.22 732.46,633.31 732.46,633.33 732.50,633.40 732.50,633.41 732.53,633.47 732.54,633.48 732.58,633.52 732.58,633.52 732.60,633.54 732.62,633.55 732.62,633.56 732.65,633.58 732.66,633.58 732.70,633.59 732.70,633.59 732.74,633.60 732.74,633.60 732.77,633.59 732.78,633.59 732.82,633.58 732.82,633.57 732.86,633.55 732.86,633.54 732.89,633.51 732.90,633.50 732.93,633.45 732.94,633.44 732.98,633.38 732.98,633.37 733.01,633.30 733.02,633.28 733.05,633.20 733.06,633.18 733.10,633.10 733.10,633.09 733.10,633.08 733.13,633.02 733.14,633.01 733.17,632.99 733.18,632.99 733.22,633.02 733.22,633.03 733.25,633.09 733.26,633.11 733.29,633.20 733.30,633.22 733.34,633.31 733.34,633.33 733.38,633.41 733.38,633.43 733.41,633.50 733.42,633.52 733.46,633.58 733.46,633.59 733.50,633.64 733.50,633.65 733.53,633.69 733.54,633.70 733.58,633.73 733.58,633.74 733.60,633.75 733.62,633.77 733.62,633.77 733.65,633.79 733.66,633.80 733.70,633.82 733.70,633.82 733.74,633.84 733.74,633.84 733.77,633.85 733.78,633.86 733.82,633.87 733.82,633.87 733.86,633.88 733.86,633.88 733.89,633.89 733.90,633.89 733.93,633.90 733.94,633.90 733.98,633.91 733.98,633.91 734.01,633.91 734.02,633.91 734.05,633.92 734.06,633.92 734.10,633.93 734.10,633.93 734.10,633.93 734.13,633.93 734.14,633.93 734.17,633.93 734.18,633.94 734.22,633.94 734.22,633.94 734.25,633.94 734.26,633.94 734.29,633.95 734.30,633.95 734.34,633.95 734.34,633.95 734.38,633.95 734.38,633.95 734.41,633.95 734.42,633.95 734.46,633.96 734.46,633.96 734.50,633.96 734.50,633.96 734.53,633.96 734.54,633.96 734.58,633.96 734.58,633.96 734.60,633.96 734.62,633.96 734.62,633.96 734.65,633.97 734.66,633.97 734.70,633.97 734.70,633.97 734.74,633.97 734.74,633.97 734.77,633.97 734.78,633.97 734.82,633.97 734.82,633.97 734.86,633.97 734.86,633.97 734.89,633.97 734.90,633.97 734.93,633.97 734.94,633.97 734.98,633.97 734.98,633.97 735.01,633.98 735.02,633.98 735.05,633.98 735.06,633.98 735.10,633.98 735.10,633.98 735.10,633.98 735.13,633.98 735.14,633.98 735.17,633.98 735.18,633.98 735.22,633.98 735.26,633.98 735.30,633.98 735.34,633.98 735.38,633.98 735.42,633.98 735.46,633.98 735.50,633.98 735.54,633.98 735.58,633.98 735.60,633.98 735.62,633.98 735.66,633.99 735.70,633.99 735.74,633.99 735.78,633.99 735.82,633.99 735.86,633.99 735.90,633.99 735.94,633.99 735.98,633.99 736.02,633.99 736.06,633.99 736.10,633.99 736.10,633.99 736.14,633.99 736.18,633.99 736.60,633.99 737.10,633.99 737.60,633.99 738.10,633.99 738.60,634.00 739.10,634.00 739.60,634.00 740.10,634.00 740.60,634.00 741.10,634.00 741.60,634.00 742.10,634.00 742.60,634.00 743.10,634.00 743.60,634.00 744.10,634.00 744.60,634.00 745.10,634.00 745.60,634.00 746.10,634.00 746.60,634.00 747.10,634.00 747.60,634.00 748.10,634.00 748.60,634.00 749.10,634.00 749.60,634.00 750.10,634.00 750.60,634.00 751.10,634.00 751.60,634.00 752.10,634.00 752.60,634.00 753.10,634.00 753.60,634.00 754.10,634.00 754.60,634.00 755.10,634.00 755.60,634.00 756.10,634.00 756.60,634.00 757.10,634.00 757.60,634.00 758.10,634.00 758.60,634.00 759.10,634.00 759.60,634.00 760.10,634.00 760.60,634.00 761.10,634.00 761.60,634.00 762.10,634.00 762.60,634.00 763.10,634.00 763.60,634.00 764.10,634.00 764.60,634.00 765.10,634.00 765.60,634.00 766.10,634.00 766.60,634.00 767.10,634.00 767.60,634.00 768.10,634.00 768.60,634.00 769.10,634.00 769.60,634.00 770.10,633.99 770.60,633.99 771.10,633.99 771.60,633.99 772.10,633.99 772.60,633.99 773.10,633.99 773.60,633.99 774.10,633.99 774.60,633.99 775.10,633.98 775.60,633.98 776.10,633.98 776.60,633.97 777.10,633.97 777.60,633.96 778.10,633.94 778.11,633.94 778.15,633.94 778.19,633.94 778.23,633.94 778.27,633.94 778.31,633.94 778.35,633.93 778.39,633.93 778.39,633.93 778.43,633.93 778.43,633.93 778.47,633.93 778.47,633.93 778.51,633.93 778.51,633.93 778.55,633.92 778.55,633.92 778.59,633.92 778.59,633.92 778.60,633.92 778.63,633.92 778.63,633.92 778.67,633.92 778.67,633.92 778.71,633.91 778.71,633.91 778.73,633.91 778.75,633.91 778.75,633.91 778.77,633.91 778.79,633.91 778.79,633.91 778.81,633.91 778.83,633.91 778.83,633.91 778.85,633.91 778.87,633.90 778.87,633.90 778.89,633.90 778.91,633.90 778.91,633.90 778.93,633.90 778.95,633.90 778.95,633.90 778.97,633.90 778.99,633.89 778.99,633.89 779.01,633.89 779.03,633.89 779.03,633.89 779.05,633.89 779.07,633.89 779.07,633.89 779.09,633.88 779.10,633.88 779.11,633.88 779.11,633.88 779.13,633.88 779.15,633.88 779.15,633.88 779.17,633.88 779.19,633.87 779.19,633.87 779.21,633.87 779.23,633.87 779.23,633.87 779.25,633.87 779.27,633.86 779.27,633.86 779.29,633.86 779.31,633.86 779.31,633.86 779.33,633.86 779.35,633.85 779.35,633.85 779.37,633.85 779.39,633.85 779.39,633.85 779.41,633.84 779.43,633.84 779.43,633.84 779.45,633.84 779.47,633.83 779.47,633.83 779.49,633.83 779.51,633.83 779.51,633.83 779.53,633.82 779.55,633.82 779.55,633.82 779.57,633.82 779.59,633.81 779.59,633.81 779.60,633.81 779.61,633.81 779.63,633.80 779.63,633.80 779.65,633.80 779.67,633.79 779.67,633.79 779.69,633.79 779.71,633.78 779.71,633.78 779.73,633.78 779.75,633.77 779.75,633.77 779.77,633.77 779.79,633.76 779.79,633.76 779.81,633.76 779.83,633.75 779.83,633.75 779.85,633.74 779.87,633.73 779.87,633.73 779.89,633.73 779.91,633.72 779.91,633.72 779.93,633.71 779.95,633.70 779.95,633.70 779.97,633.70 779.99,633.69 779.99,633.69 780.01,633.68 780.03,633.67 780.03,633.67 780.05,633.66 780.07,633.65 780.07,633.65 780.09,633.64 780.10,633.63 780.11,633.63 780.11,633.62 780.13,633.62 780.15,633.60 780.15,633.60 780.17,633.59 780.19,633.57 780.19,633.57 780.21,633.56 780.23,633.54 780.23,633.54 780.25,633.53 780.27,633.51 780.27,633.51 780.29,633.50 780.31,633.47 780.31,633.47 780.33,633.46 780.35,633.43 780.35,633.43 780.37,633.41 780.39,633.38 780.39,633.38 780.41,633.36 780.43,633.33 780.43,633.33 780.45,633.31 780.47,633.27 780.47,633.27 780.49,633.25 780.51,633.20 780.51,633.20 780.53,633.17 780.55,633.12 780.55,633.12 780.57,633.09 780.59,633.03 780.59,633.03 780.60,633.02 780.61,632.99 780.63,632.93 780.63,632.92 780.65,632.88 780.67,632.80 780.67,632.80 780.69,632.75 780.71,632.65 780.71,632.65 780.73,632.58 780.75,632.47 780.75,632.47 780.77,632.39 780.79,632.25 780.79,632.25 780.81,632.15 780.83,631.98 780.83,631.97 780.85,631.85 780.87,631.64 780.87,631.63 780.89,631.47 780.91,631.19 780.91,631.17 780.93,630.96 780.95,630.57 780.95,630.55 780.97,630.26 780.99,629.68 780.99,629.65 781.01,629.19 781.03,628.23 781.03,628.18 781.05,627.36 781.07,625.57 781.07,625.48 781.09,624.04 781.10,623.00 781.11,622.08 781.11,622.03 781.13,621.60 781.15,621.33 781.15,621.31 781.17,620.73 781.19,618.84 781.19,618.73 781.21,616.83 781.23,612.41 781.23,612.18 781.25,608.20 781.27,598.93 781.27,598.44 781.29,589.72 781.31,568.14 781.31,566.96 781.33,545.44 781.35,492.20 781.35,489.44 781.37,445.42 781.39,401.70 781.39,401.74 781.41,422.37 781.43,490.80 781.43,493.54 781.45,529.51 781.47,567.61 781.47,568.78 781.49,583.47 781.51,598.84 781.51,599.32 781.53,605.60 781.55,612.63 781.55,612.86 781.57,615.93 781.59,619.53 781.59,619.65 781.60,620.35 781.61,621.28 781.63,623.15 781.63,623.22 781.65,623.98 781.67,624.60 781.67,624.61 781.69,624.58 781.71,624.13 781.71,624.12 781.73,624.23 781.75,625.74 781.75,625.83 781.77,627.05 781.79,628.58 781.79,628.64 781.81,629.31 781.83,630.10 781.83,630.12 781.85,630.49 781.87,630.95 781.87,630.96 781.89,631.19 781.91,631.50 781.91,631.51 781.93,631.68 781.95,631.90 781.95,631.91 781.97,632.03 781.99,632.20 781.99,632.21 782.01,632.30 782.03,632.43 782.03,632.44 782.05,632.52 782.07,632.62 782.07,632.63 782.09,632.69 782.10,632.73 782.11,632.78 782.11,632.78 782.13,632.83 782.15,632.91 782.15,632.91 782.17,632.96 782.19,633.02 782.19,633.02 782.21,633.06 782.23,633.11 782.23,633.12 782.25,633.15 782.27,633.19 782.27,633.20 782.29,633.22 782.31,633.26 782.31,633.27 782.33,633.29 782.35,633.33 782.35,633.33 782.37,633.35 782.39,633.38 782.39,633.38 782.41,633.40 782.43,633.43 782.43,633.43 782.45,633.44 782.47,633.47 782.47,633.47 782.49,633.48 782.51,633.51 782.51,633.51 782.53,633.52 782.55,633.54 782.55,633.54 782.57,633.55 782.59,633.57 782.59,633.57 782.60,633.58 782.61,633.58 782.63,633.60 782.63,633.60 782.65,633.61 782.67,633.62 782.67,633.62 782.69,633.63 782.71,633.65 782.71,633.65 782.73,633.65 782.75,633.67 782.75,633.67 782.77,633.67 782.79,633.69 782.79,633.69 782.81,633.69 782.83,633.70 782.83,633.70 782.85,633.71 782.87,633.72 782.87,633.72 782.89,633.72 782.91,633.73 782.91,633.73 782.93,633.74 782.95,633.75 782.95,633.75 782.97,633.75 782.99,633.76 782.99,633.76 783.01,633.76 783.03,633.77 783.03,633.77 783.05,633.78 783.07,633.78 783.07,633.78 783.09,633.79 783.10,633.79 783.11,633.79 783.11,633.79 783.13,633.80 783.15,633.80 783.15,633.80 783.17,633.81 783.19,633.81 783.19,633.81 783.21,633.81 783.23,633.82 783.23,633.82 783.25,633.82 783.27,633.83 783.27,633.83 783.29,633.83 783.31,633.83 783.31,633.83 783.33,633.84 783.35,633.84 783.35,633.84 783.37,633.84 783.39,633.85 783.39,633.85 783.41,633.85 783.43,633.85 783.43,633.85 783.45,633.85 783.47,633.86 783.47,633.86 783.49,633.86 783.51,633.86 783.51,633.86 783.53,633.87 783.55,633.87 783.55,633.87 783.57,633.87 783.59,633.87 783.59,633.87 783.60,633.87 783.61,633.87 783.63,633.88 783.63,633.88 783.65,633.88 783.67,633.88 783.67,633.88 783.69,633.88 783.71,633.89 783.71,633.89 783.73,633.89 783.75,633.89 783.75,633.89 783.77,633.89 783.79,633.89 783.79,633.89 783.81,633.89 783.83,633.90 783.83,633.90 783.85,633.90 783.87,633.90 783.87,633.90 783.89,633.90 783.91,633.90 783.91,633.90 783.93,633.90 783.95,633.91 783.95,633.91 783.97,633.91 783.99,633.91 783.99,633.91 784.01,633.91 784.03,633.91 784.03,633.91 784.05,633.91 784.07,633.91 784.07,633.91 784.09,633.92 784.10,633.92 784.11,633.92 784.11,633.92 784.13,633.92 784.15,633.92 784.17,633.92 784.19,633.92 784.21,633.92 784.23,633.92 784.25,633.92 784.27,633.93 784.29,633.93 784.31,633.93 784.33,633.93 784.35,633.93 784.37,633.93 784.39,633.93 784.41,633.93 784.45,633.93 784.49,633.94 784.53,633.94 784.57,633.94 784.60,633.94 784.61,633.94 784.65,633.94 784.69,633.94 784.73,633.94 785.10,633.96 785.60,633.97 786.10,633.97 786.60,633.98 787.10,633.98 787.60,633.98 788.10,633.99 788.60,633.99 789.10,633.99 789.60,633.99 790.10,633.99 790.60,633.99 791.10,633.99 791.60,633.99 792.10,633.99 792.60,633.99 793.10,634.00 793.60,634.00 794.10,634.00 794.60,634.00 795.10,634.00 795.60,634.00 796.10,634.00 796.60,634.00 797.10,634.00 797.60,634.00 798.10,634.00 798.60,634.00 799.10,634.00 799.60,634.00 800.10,634.00 800.60,634.00 801.10,634.00 801.60,634.00 802.10,634.00 802.60,634.00 803.10,634.00 803.60,634.00 804.10,634.00 804.60,634.00 805.10,634.00 805.60,634.00 806.10,634.00 806.60,634.00 807.10,634.00 807.60,634.00 808.10,634.00 808.60,634.00 809.10,634.00 809.60,634.00 810.10,634.00 810.60,634.00 811.10,634.00 811.60,634.00 812.10,634.00 812.60,634.00 813.10,634.00 813.60,634.00 814.10,634.00 814.60,634.00 815.10,634.00 815.60,634.00 816.10,634.00 816.60,634.00 817.10,634.00 817.60,634.00 818.10,634.00 818.60,634.00 819.10,634.00 819.60,634.00 820.10,634.00 820.60,634.00 821.10,634.00 821.60,634.00 822.10,634.00 822.60,634.00 823.10,634.00 823.60,634.00 824.10,634.00 824.60,634.00 825.10,634.00 825.60,634.00 826.10,634.00 826.60,634.00 827.10,634.00 827.60,634.00 828.10,634.00 828.60,634.00 829.10,634.00 829.60,634.00 830.10,634.00 830.60,634.00 831.10,634.00 831.60,634.00 832.10,634.00 832.60,634.00 833.10,634.00 833.60,634.00 834.10,634.00 834.60,634.00 835.10,634.00 835.60,634.00 836.10,634.00 836.60,634.00 837.10,634.00 837.60,634.00 838.10,634.00 838.60,634.00 839.10,634.00 839.60,634.00 840.10,634.00 840.60,634.00 841.10,634.00 841.60,634.00 842.10,634.00 842.60,634.00 843.10,634.00 843.60,634.00 844.10,634.00 844.60,634.00 845.10,634.00 845.60,634.00 846.10,634.00 846.60,634.00 847.10,634.00 847.60,634.00 848.10,634.00 848.60,634.00 849.10,634.00 849.60,634.00 850.10,634.00 850.60,634.00 851.10,634.00 851.60,634.00 852.10,634.00 852.60,634.00 853.10,634.00 853.60,634.00 854.10,634.00 854.60,634.00 855.10,634.00 855.60,634.00 856.10,634.00 856.60,634.00 857.10,634.00 857.60,634.00 858.10,634.00 858.60,634.00 859.10,634.00 859.60,634.00 860.10,634.00 860.60,634.00 861.10,634.00 861.60,634.00 862.10,634.00 862.60,634.00 863.10,634.00 863.60,634.00 864.10,634.00 864.60,634.00 865.10,634.00 865.60,634.00 866.10,634.00 866.60,634.00 867.10,634.00 867.60,634.00 868.10,634.00 868.60,634.00 869.10,634.00 869.60,634.00 870.10,634.00 870.60,634.00 871.10,634.00"/>
<g stroke="#1616c2" stroke-width="1" fill="none">
<path d="M82.4 664.4H871"/>
<path d="M866.29 664.4v2.6M860.70 664.4v2.6M855.11 664.4v2.6M849.52 664.4v2.6M843.92 664.4v2.6M838.33 664.4v7.8M832.74 664.4v2.6M827.14 664.4v2.6M821.55 664.4v2.6M815.96 664.4v2.6M810.37 664.4v2.6M804.77 664.4v2.6M799.18 664.4v2.6M793.59 664.4v2.6M787.99 664.4v2.6M782.40 664.4v7.8M776.81 664.4v2.6M771.21 664.4v2.6M765.62 664.4v2.6M760.03 664.4v2.6M754.43 664.4v2.6M748.84 664.4v2.6M743.25 664.4v2.6M737.66 664.4v2.6M732.06 664.4v2.6M726.47 664.4v7.8M720.88 664.4v2.6M715.28 664.4v2.6M709.69 664.4v2.6M704.10 664.4v2.6M698.50 664.4v2.6M692.91 664.4v2.6M687.32 664.4v2.6M681.73 664.4v2.6M676.13 664.4v2.6M670.54 664.4v7.8M664.95 664.4v2.6M659.35 664.4v2.6M653.76 664.4v2.6M648.17 664.4v2.6M642.58 664.4v2.6M636.98 664.4v2.6M631.39 664.4v2.6M625.80 664.4v2.6M620.20 664.4v2.6M614.61 664.4v7.8M609.02 664.4v2.6M603.42 664.4v2.6M597.83 664.4v2.6M592.24 664.4v2.6M586.64 664.4v2.6M581.05 664.4v2.6M575.46 664.4v2.6M569.87 664.4v2.6M564.27 664.4v2.6M558.68 664.4v7.8M553.09 664.4v2.6M547.49 664.4v2.6M541.90 664.4v2.6M536.31 664.4v2.6M530.71 664.4v2.6M525.12 664.4v2.6M519.53 664.4v2.6M513.94 664.4v2.6M508.34 664.4v2.6M502.75 664.4v7.8M497.16 664.4v2.6M491.56 664.4v2.6M485.97 664.4v2.6M480.38 664.4v2.6M474.78 664.4v2.6M469.19 664.4v2.6M463.60 664.4v2.6M458.01 664.4v2.6M452.41 664.4v2.6M446.82 664.4v7.8M441.23 664.4v2.6M435.63 664.4v2.6M430.04 664.4v2.6M424.45 664.4v2.6M418.85 664.4v2.6M413.26 664.4v2.6M407.67 664.4v2.6M402.08 664.4v2.6M396.48 664.4v2.6M390.89 664.4v7.8M385.30 664.4v2.6M379.70 664.4v2.6M374.11 664.4v2.6M368.52 664.4v2.6M362.92 664.4v2.6M357.33 664.4v2.6M351.74 664.4v2.6M346.15 664.4v2.6M340.55 664.4v2.6M334.96 664.4v7.8M329.37 664.4v2.6M323.77 664.4v2.6M318.18 664.4v2.6M312.59 664.4v2.6M307.00 664.4v2.6M301.40 664.4v2.6M295.81 664.4v2.6M290.22 664.4v2.6M284.62 664.4v2.6M279.03 664.4v7.8M273.44 664.4v2.6M267.84 664.4v2.6M262.25 664.4v2.6M256.66 664.4v2.6M251.06 664.4v2.6M245.47 664.4v2.6M239.88 664.4v2.6M234.29 664.4v2.6M228.69 664.4v2.6M223.10 664.4v7.8M217.51 664.4v2.6M211.91 664.4v2.6M206.32 664.4v2.6M200.73 664.4v2.6M195.13 664.4v2.6M189.54 664.4v2.6M183.95 664.4v2.6M178.36 664.4v2.6M172.76 664.4v2.6M167.17 664.4v7.8M161.58 664.4v2.6M155.98 664.4v2.6M150.39 664.4v2.6M144.80 664.4v2.6M139.20 664.4v2.6M133.61 664.4v2.6M128.02 664.4v2.6M122.43 664.4v2.6M116.83 664.4v2.6M111.24 664.4v7.8M105.65 664.4v2.6M100.05 664.4v2.6M94.46 664.4v2.6M88.87 664.4v2.6M83.27 664.4v2.6"/>
</g>
<g class="ax" text-anchor="middle">
<text x="782.60" y="691.3">0</text>
<text x="726.67" y="691.3">1</text>
<text x="670.74" y="691.3">2</text>
<text x="614.81" y="691.3">3</text>
<text x="558.88" y="691.3">4</text>
<text x="502.95" y="691.3">5</text>
<text x="447.02" y="691.3">6</text>
<text x="391.09" y="691.3">7</text>
<text x="335.16" y="691.3">8</text>
<text x="279.23" y="691.3">9</text>
<text x="223.30" y="691.3">10</text>
<text x="167.37" y="691.3">11</text>
<text x="111.44" y="691.3">12</text>
</g>
<text class="ax" x="870.7" y="691.3" text-anchor="end">ppm</text>
<g fill="none" stroke="#c8141e" stroke-width="0.8">
<path d="M327.7 700.5V708.5L322.4 717.8V753.0M334.8 700.5V708.5L339.8 717.8V753.0"/>
<path d="M352.4 700.5V708.5L345.6 717.8V753.0M360.5 700.5V708.5L362.7 717.8V753.0"/>
<path d="M368.9 700.5V708.5L362.7 717.8V753.0M373.6 700.5V708.5L380.2 717.8V753.0"/>
<path d="M381.9 700.5V708.5L380.2 717.8V753.0M389.2 700.5V708.5L397.0 717.8V753.0"/>
<path d="M711.2 700.5V708.5L702.4 717.8V753.0M711.2 700.5V708.5L720.0 717.8V753.0"/>
</g>
<g class="int">
<text transform="translate(337.0 752.4) rotate(-90)" textLength="34" lengthAdjust="spacingAndGlyphs">1.980</text>
<text transform="translate(360.29999999999995 752.4) rotate(-90)" textLength="34" lengthAdjust="spacingAndGlyphs">2.040</text>
<text transform="translate(377.0 752.4) rotate(-90)" textLength="34" lengthAdjust="spacingAndGlyphs">2.028</text>
<text transform="translate(394.29999999999995 752.4) rotate(-90)" textLength="34" lengthAdjust="spacingAndGlyphs">2.000</text>
<text transform="translate(717.4 752.4) rotate(-90)" textLength="34" lengthAdjust="spacingAndGlyphs">0.196</text>
</g>
<g class="par">
<text x="931.3" y="222.00" xml:space="preserve" textLength="170.2" lengthAdjust="spacing">Current Data Parameters</text>
<text x="931.3" y="234.35" xml:space="preserve" textLength="192.4" lengthAdjust="spacing">NAME     2217-65-4P3046016</text>
<text x="931.3" y="246.70" xml:space="preserve" textLength="170.2" lengthAdjust="spacing">EXPNO                 1</text>
<text x="931.3" y="259.05" xml:space="preserve" textLength="170.2" lengthAdjust="spacing">PROCNO                1</text>
<text x="931.3" y="283.75" xml:space="preserve" textLength="199.8" lengthAdjust="spacing">F2 - Acquisition Parameters</text>
<text x="931.3" y="296.11" xml:space="preserve" textLength="170.2" lengthAdjust="spacing">Date_          20240516</text>
<text x="931.3" y="308.46" xml:space="preserve" textLength="185.0" lengthAdjust="spacing">Time              19.32 h</text>
<text x="931.3" y="320.81" xml:space="preserve" textLength="170.2" lengthAdjust="spacing">INSTRUM          Avance</text>
<text x="931.3" y="333.16" xml:space="preserve" textLength="170.2" lengthAdjust="spacing">PROBHD   Z154705_0134 (</text>
<text x="931.3" y="345.51" xml:space="preserve" textLength="170.2" lengthAdjust="spacing">PULPROG            zg30</text>
<text x="931.3" y="357.86" xml:space="preserve" textLength="170.2" lengthAdjust="spacing">TD                65536</text>
<text x="931.3" y="370.21" xml:space="preserve" textLength="170.2" lengthAdjust="spacing">SOLVENT           CDCl3</text>
<text x="931.3" y="382.56" xml:space="preserve" textLength="170.2" lengthAdjust="spacing">NS                    4</text>
<text x="931.3" y="394.91" xml:space="preserve" textLength="170.2" lengthAdjust="spacing">DS                    0</text>
<text x="931.3" y="407.26" xml:space="preserve" textLength="192.4" lengthAdjust="spacing">SWH           11904.762 Hz</text>
<text x="931.3" y="419.62" xml:space="preserve" textLength="192.4" lengthAdjust="spacing">FIDRES         0.363304 Hz</text>
<text x="931.3" y="431.97" xml:space="preserve" textLength="199.8" lengthAdjust="spacing">AQ            2.7525120 sec</text>
<text x="931.3" y="444.32" xml:space="preserve" textLength="170.2" lengthAdjust="spacing">RG                  101</text>
<text x="931.3" y="456.67" xml:space="preserve" textLength="207.2" lengthAdjust="spacing">DW               42.000 usec</text>
<text x="931.3" y="469.02" xml:space="preserve" textLength="207.2" lengthAdjust="spacing">DE                 8.79 usec</text>
<text x="931.3" y="481.37" xml:space="preserve" textLength="185.0" lengthAdjust="spacing">TE                294.1 K</text>
<text x="931.3" y="493.72" xml:space="preserve" textLength="199.8" lengthAdjust="spacing">D1           1.00000000 sec</text>
<text x="931.3" y="506.07" xml:space="preserve" textLength="170.2" lengthAdjust="spacing">TD0                   1</text>
<text x="931.3" y="518.42" xml:space="preserve" textLength="199.8" lengthAdjust="spacing">SFO1        600.1537059 MHz</text>
<text x="931.3" y="530.78" xml:space="preserve" textLength="170.2" lengthAdjust="spacing">NUC1                 1H</text>
<text x="931.3" y="543.13" xml:space="preserve" textLength="207.2" lengthAdjust="spacing">P0                 3.33 usec</text>
<text x="931.3" y="555.48" xml:space="preserve" textLength="207.2" lengthAdjust="spacing">P1                10.00 usec</text>
<text x="931.3" y="567.83" xml:space="preserve" textLength="185.0" lengthAdjust="spacing">PLW1        21.87999916 W</text>
<text x="931.3" y="592.53" xml:space="preserve" textLength="192.4" lengthAdjust="spacing">F2 - Processing parameters</text>
<text x="931.3" y="604.88" xml:space="preserve" textLength="170.2" lengthAdjust="spacing">SI                65536</text>
<text x="931.3" y="617.23" xml:space="preserve" textLength="199.8" lengthAdjust="spacing">SF          600.1500019 MHz</text>
<text x="931.3" y="629.58" xml:space="preserve" textLength="170.2" lengthAdjust="spacing">WDW                  EM</text>
<text x="931.3" y="641.93" xml:space="preserve" textLength="170.2" lengthAdjust="spacing">SSB                   0</text>
<text x="931.3" y="654.29" xml:space="preserve" textLength="192.4" lengthAdjust="spacing">LB                 0.30 Hz</text>
<text x="931.3" y="666.64" xml:space="preserve" textLength="170.2" lengthAdjust="spacing">GB                    0</text>
<text x="931.3" y="678.99" xml:space="preserve" textLength="170.2" lengthAdjust="spacing">PC                 1.00</text>
</g>
<polygon points="506.00,368.95 493.60,391.90 467.80,391.90 455.40,368.95 467.80,346.00 493.60,346.00" fill="none" stroke="#70b83a" stroke-width="3.8" stroke-linejoin="round"/>
<g stroke="#70b83a" stroke-width="3.3" stroke-linecap="round">
<line x1="473.6" y1="353.1" x2="487.8" y2="353.1"/>
<line x1="463.1" y1="371.1" x2="471.5" y2="385.4"/>
<line x1="498.8" y1="371.1" x2="490.4" y2="385.4"/>
</g>
<g class="sans" font-size="56.9" fill="#0c0c0c" stroke="#0c0c0c" stroke-width="1.2" stroke-linejoin="miter">
<text transform="translate(509.60 392.9) scale(0.7709 1)" style="vector-effect:non-scaling-stroke">M</text>
<text transform="translate(545.51 392.9) scale(0.7052 0.9)" style="vector-effect:non-scaling-stroke">o</text>
<text transform="translate(567.49 392.9) scale(0.8686 0.95)" style="vector-effect:non-scaling-stroke">l</text>
<text transform="translate(578.39 392.9) scale(0.6024 1)" style="vector-effect:non-scaling-stroke">B</text>
<text transform="translate(602.36 392.9) scale(0.6858 0.9)" style="vector-effect:non-scaling-stroke">e</text>
<text transform="translate(625.03 392.9) scale(0.7353 0.9)" style="vector-effect:non-scaling-stroke">s</text>
<text transform="translate(647.65 392.9) scale(0.8753 1.03)" style="vector-effect:non-scaling-stroke">t</text>
</g>
<text class="sans" x="447.8" y="425.7" font-size="13" fill="#8a8a8a" textLength="292.3" lengthAdjust="spacingAndGlyphs">molBest.com,180K+ Chemical Reagents In Stock.</text>
<g fill="#3c4fb6" fill-rule="evenodd">
<path transform="translate(1008.6 130.1) rotate(33)" d="M-66.5 0A66.5 24.8 0 1 0 66.5 0A66.5 24.8 0 1 0 -66.5 0ZM-62.3 -1.15A62.3 20.9 0 1 0 62.3 -1.15A62.3 20.9 0 1 0 -62.3 -1.15Z"/>
<path transform="translate(1008.6 130.1) rotate(-33)" d="M-66.5 0A66.5 24.8 0 1 0 66.5 0A66.5 24.8 0 1 0 -66.5 0ZM-62.3 1.15A62.3 20.9 0 1 0 62.3 1.15A62.3 20.9 0 1 0 -62.3 1.15Z"/>
<circle cx="981.8" cy="91.3" r="4.7"/><circle cx="981.8" cy="168.6" r="4.7"/>
</g>
<rect x="924.5" y="119.6" width="166.5" height="20" fill="#fff"/>
<g class="sans" font-weight="bold" font-size="23.6" fill="#111" stroke="#111" stroke-width="1.9" stroke-linejoin="miter">
<text transform="translate(924.40 137.75) scale(1.5516 1)" style="vector-effect:non-scaling-stroke">B</text>
<text transform="translate(951.53 137.75) scale(1.5932 1)" style="vector-effect:non-scaling-stroke">R</text>
<text transform="translate(979.64 137.75) scale(1.6314 1)" style="vector-effect:non-scaling-stroke">U</text>
<text transform="translate(1006.43 137.75) scale(1.7173 1)" style="vector-effect:non-scaling-stroke">K</text>
<text transform="translate(1036.85 137.75) scale(1.5814 1)" style="vector-effect:non-scaling-stroke">E</text>
<text transform="translate(1062.52 137.75) scale(1.5999 1)" style="vector-effect:non-scaling-stroke">R</text>
</g>
</svg></body></html>
